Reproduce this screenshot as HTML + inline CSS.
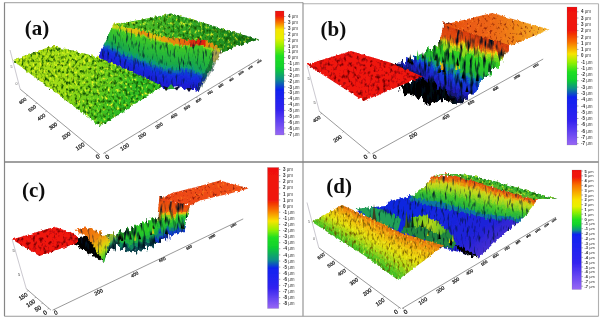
<!DOCTYPE html>
<html><head><meta charset="utf-8"><title>Figure</title>
<style>html,body{margin:0;padding:0;background:#fff}svg{display:block}</style>
</head><body>
<svg width="602" height="320" viewBox="0 0 602 320">
<defs><filter id="rG" x="-5%" y="-15%" width="110%" height="130%" color-interpolation-filters="sRGB">
<feTurbulence type="fractalNoise" baseFrequency="0.36 0.27" numOctaves="2" seed="7" result="n"/><feDisplacementMap in="SourceGraphic" in2="n" scale="4" xChannelSelector="R" yChannelSelector="G" result="d"/><feColorMatrix in="n" type="matrix" values="0 0 0 0 0.08  0 0 0 0 0.34  0 0 0 0 0.02  0 0 3.2 0 -1.5" result="dk"/>
<feComposite in="dk" in2="d" operator="in" result="dk2"/><feColorMatrix in="n" type="matrix" values="0 0 0 0 1  0 0 0 0 1  0 0 0 0 0.15  0 3.0 0 0 -1.6" result="lt"/>
<feComposite in="lt" in2="d" operator="in" result="lt2"/>
<feMerge><feMergeNode in="d"/><feMergeNode in="lt2"/><feMergeNode in="dk2"/></feMerge></filter><filter id="rC" x="-5%" y="-15%" width="110%" height="130%" color-interpolation-filters="sRGB">
<feTurbulence type="fractalNoise" baseFrequency="0.30 0.08" numOctaves="2" seed="3" result="n"/><feColorMatrix in="n" type="matrix" values="1 0 0 0 0  0 1 0 0 0  0 0 0 0 0.5  0 0 0 0 1" result="n2"/>
<feDisplacementMap in="SourceGraphic" in2="n2" scale="13" xChannelSelector="B" yChannelSelector="G" result="d1"/>
<feDisplacementMap in="d1" in2="n2" scale="4" xChannelSelector="R" yChannelSelector="B" result="d"/><feColorMatrix in="n" type="matrix" values="0 0 0 0 0.0  0 0 0 0 0.06  0 0 0 0 0.12  0 0 3.4 0 -1.6" result="dk"/>
<feComposite in="dk" in2="d" operator="in" result="dk2"/><feMerge><feMergeNode in="d"/><feMergeNode in="dk2"/></feMerge></filter><filter id="rC2" x="-5%" y="-15%" width="110%" height="130%" color-interpolation-filters="sRGB">
<feTurbulence type="fractalNoise" baseFrequency="0.42 0.12" numOctaves="2" seed="11" result="n"/><feColorMatrix in="n" type="matrix" values="1 0 0 0 0  0 1 0 0 0  0 0 0 0 0.5  0 0 0 0 1" result="n2"/>
<feDisplacementMap in="SourceGraphic" in2="n2" scale="7" xChannelSelector="B" yChannelSelector="G" result="d1"/>
<feDisplacementMap in="d1" in2="n2" scale="3" xChannelSelector="R" yChannelSelector="B" result="d"/><feColorMatrix in="n" type="matrix" values="0 0 0 0 0.0  0 0 0 0 0.08  0 0 0 0 0.18  0 0 2.8 0 -1.5" result="dk"/>
<feComposite in="dk" in2="d" operator="in" result="dk2"/><feMerge><feMergeNode in="d"/><feMergeNode in="dk2"/></feMerge></filter><filter id="rY" x="-5%" y="-15%" width="110%" height="130%" color-interpolation-filters="sRGB">
<feTurbulence type="fractalNoise" baseFrequency="0.46 0.22" numOctaves="2" seed="13" result="n"/><feDisplacementMap in="SourceGraphic" in2="n" scale="3" xChannelSelector="R" yChannelSelector="G" result="d"/><feColorMatrix in="n" type="matrix" values="0 0 0 0 0.4  0 0 0 0 0.3  0 0 0 0 0.0  0 0 2.8 0 -1.4" result="dk"/>
<feComposite in="dk" in2="d" operator="in" result="dk2"/><feColorMatrix in="n" type="matrix" values="0 0 0 0 1  0 0 0 0 1  0 0 0 0 0.2  0 2.6 0 0 -1.5" result="lt"/>
<feComposite in="lt" in2="d" operator="in" result="lt2"/>
<feMerge><feMergeNode in="d"/><feMergeNode in="lt2"/><feMergeNode in="dk2"/></feMerge></filter><filter id="rR2" x="-5%" y="-15%" width="110%" height="130%" color-interpolation-filters="sRGB">
<feTurbulence type="fractalNoise" baseFrequency="0.30 0.24" numOctaves="2" seed="9" result="n"/><feDisplacementMap in="SourceGraphic" in2="n" scale="3" xChannelSelector="R" yChannelSelector="G" result="d"/><feColorMatrix in="n" type="matrix" values="0 0 0 0 0.45  0 0 0 0 0.0  0 0 0 0 0.0  0 0 3.0 0 -1.45" result="dk"/>
<feComposite in="dk" in2="d" operator="in" result="dk2"/><feMerge><feMergeNode in="d"/><feMergeNode in="dk2"/></feMerge></filter><filter id="rR" x="-5%" y="-15%" width="110%" height="130%" color-interpolation-filters="sRGB">
<feTurbulence type="fractalNoise" baseFrequency="0.40 0.30" numOctaves="2" seed="5" result="n"/><feDisplacementMap in="SourceGraphic" in2="n" scale="3" xChannelSelector="R" yChannelSelector="G" result="d"/><feColorMatrix in="n" type="matrix" values="0 0 0 0 0.35  0 0 0 0 0.0  0 0 0 0 0.0  0 0 2.6 0 -1.5" result="dk"/>
<feComposite in="dk" in2="d" operator="in" result="dk2"/><feColorMatrix in="n" type="matrix" values="0 0 0 0 1  0 0 0 0 0.5  0 0 0 0 0.12  0 2.6 0 0 -1.45" result="lt"/>
<feComposite in="lt" in2="d" operator="in" result="lt2"/>
<feMerge><feMergeNode in="d"/><feMergeNode in="lt2"/><feMergeNode in="dk2"/></feMerge></filter><filter id="soft" x="-5%" y="-5%" width="110%" height="110%"><feGaussianBlur stdDeviation="0.6"/></filter><filter id="soft2" x="-5%" y="-5%" width="110%" height="110%"><feGaussianBlur stdDeviation="0.65"/></filter><linearGradient id="cba" gradientUnits="userSpaceOnUse" x1="0" y1="11" x2="0" y2="135"><stop offset="0" stop-color="#f01010"/><stop offset="0.04" stop-color="#f01808"/><stop offset="0.09" stop-color="#f87000"/><stop offset="0.15" stop-color="#f8e400"/><stop offset="0.22" stop-color="#e8f000"/><stop offset="0.28" stop-color="#98f000"/><stop offset="0.36" stop-color="#20e020"/><stop offset="0.46" stop-color="#10d030"/><stop offset="0.55" stop-color="#109088"/><stop offset="0.635" stop-color="#1020f0"/><stop offset="0.79" stop-color="#3020f0"/><stop offset="1" stop-color="#9868f4"/></linearGradient><linearGradient id="cbb" gradientUnits="userSpaceOnUse" x1="0" y1="7" x2="0" y2="145"><stop offset="0" stop-color="#f01010"/><stop offset="0.17" stop-color="#f01808"/><stop offset="0.255" stop-color="#f87000"/><stop offset="0.34" stop-color="#f8e400"/><stop offset="0.4" stop-color="#98f000"/><stop offset="0.47" stop-color="#20e020"/><stop offset="0.53" stop-color="#10d030"/><stop offset="0.59" stop-color="#109088"/><stop offset="0.655" stop-color="#1020f0"/><stop offset="0.82" stop-color="#3020f0"/><stop offset="1" stop-color="#9868f4"/></linearGradient><linearGradient id="cbc" gradientUnits="userSpaceOnUse" x1="0" y1="167.5" x2="0" y2="308.5"><stop offset="0" stop-color="#f01010"/><stop offset="0.23" stop-color="#f01808"/><stop offset="0.3" stop-color="#f87000"/><stop offset="0.38" stop-color="#f8e400"/><stop offset="0.44" stop-color="#98f000"/><stop offset="0.495" stop-color="#20e020"/><stop offset="0.565" stop-color="#10d030"/><stop offset="0.655" stop-color="#109088"/><stop offset="0.715" stop-color="#1020f0"/><stop offset="0.85" stop-color="#3020f0"/><stop offset="1" stop-color="#9868f4"/></linearGradient><linearGradient id="cbd" gradientUnits="userSpaceOnUse" x1="0" y1="170" x2="0" y2="289.5"><stop offset="0" stop-color="#f01010"/><stop offset="0.06" stop-color="#f01808"/><stop offset="0.125" stop-color="#f87000"/><stop offset="0.25" stop-color="#f8e400"/><stop offset="0.305" stop-color="#e8f000"/><stop offset="0.35" stop-color="#98f000"/><stop offset="0.415" stop-color="#20e020"/><stop offset="0.46" stop-color="#10d030"/><stop offset="0.505" stop-color="#109088"/><stop offset="0.54" stop-color="#1020f0"/><stop offset="0.77" stop-color="#3020f0"/><stop offset="1" stop-color="#9868f4"/></linearGradient><linearGradient id="a_h" gradientUnits="userSpaceOnUse" x1="120" y1="25" x2="255" y2="40"><stop offset="0" stop-color="#58c428"/><stop offset="0.4" stop-color="#38b028"/><stop offset="0.8" stop-color="#209020"/><stop offset="1" stop-color="#107018"/></linearGradient><linearGradient id="a_l" gradientUnits="userSpaceOnUse" x1="30" y1="55" x2="110" y2="118"><stop offset="0" stop-color="#a8dc14"/><stop offset="0.45" stop-color="#9cdc14"/><stop offset="0.75" stop-color="#64cc1c"/><stop offset="1" stop-color="#30bc24"/></linearGradient><linearGradient id="b_h" gradientUnits="userSpaceOnUse" x1="445" y1="25" x2="545" y2="30"><stop offset="0" stop-color="#e85010"/><stop offset="0.45" stop-color="#ec6414"/><stop offset="0.75" stop-color="#f08c18"/><stop offset="1" stop-color="#f4b830"/></linearGradient><linearGradient id="c_k" gradientUnits="userSpaceOnUse" x1="108" y1="234" x2="112" y2="255"><stop offset="0" stop-color="#d8d010"/><stop offset="0.35" stop-color="#30a060"/><stop offset="0.7" stop-color="#083040"/><stop offset="1" stop-color="#000000"/></linearGradient><linearGradient id="c_m" gradientUnits="userSpaceOnUse" x1="82" y1="230" x2="104" y2="260"><stop offset="0" stop-color="#f06810"/><stop offset="0.4" stop-color="#f08810"/><stop offset="0.6" stop-color="#e8c010"/><stop offset="0.75" stop-color="#d0dc10"/><stop offset="0.9" stop-color="#60d020"/><stop offset="1" stop-color="#30c030"/></linearGradient><linearGradient id="c_h" gradientUnits="userSpaceOnUse" x1="160" y1="199" x2="245" y2="187"><stop offset="0" stop-color="#ec4414"/><stop offset="1" stop-color="#f05018"/></linearGradient><linearGradient id="d_v" gradientUnits="userSpaceOnUse" x1="440" y1="200" x2="478" y2="257"><stop offset="0" stop-color="#1028e0"/><stop offset="0.7" stop-color="#2020d8"/><stop offset="1" stop-color="#4830d0"/></linearGradient><linearGradient id="d_g" gradientUnits="userSpaceOnUse" x1="415" y1="218" x2="445" y2="232"><stop offset="0" stop-color="#60c020"/><stop offset="0.5" stop-color="#b8d818"/><stop offset="1" stop-color="#50b828"/></linearGradient></defs>
<rect width="602" height="320" fill="#fff"/>
<g filter="url(#soft)">
<line x1="4.5" y1="2.6" x2="303" y2="2.6" stroke="#b0b0b0" stroke-width="1.1"/>
<line x1="303" y1="3.8" x2="598.5" y2="3.8" stroke="#b0b0b0" stroke-width="1.1"/>
<line x1="4.5" y1="2.6" x2="4.5" y2="316.2" stroke="#868686" stroke-width="1.2"/>
<line x1="303" y1="2.6" x2="303" y2="316.2" stroke="#8c8c8c" stroke-width="1.1"/>
<line x1="598.5" y1="3.8" x2="598.5" y2="316.2" stroke="#b0b0b0" stroke-width="1.1"/>
<line x1="4.5" y1="162" x2="598.5" y2="162" stroke="#808080" stroke-width="1.3"/>
<line x1="4.5" y1="316.2" x2="598.5" y2="316.2" stroke="#9a9a9a" stroke-width="1.1"/>
</g>
<g filter="url(#soft)">
<rect x="275.2" y="11" width="8.8" height="124" fill="url(#cba)" stroke="#666" stroke-opacity="0.35" stroke-width="0.5"/>
<g font-family="Liberation Sans, sans-serif" font-size="4.5" fill="#404040"><text x="288" y="18.1"><tspan font-weight="bold" fill="#2a2a2a">4</tspan> µm</text><text x="288" y="24.0"><tspan font-weight="bold" fill="#2a2a2a">3</tspan> µm</text><text x="288" y="29.8"><tspan font-weight="bold" fill="#2a2a2a">3</tspan> µm</text><text x="288" y="35.7"><tspan font-weight="bold" fill="#2a2a2a">2</tspan> µm</text><text x="288" y="41.6"><tspan font-weight="bold" fill="#2a2a2a">2</tspan> µm</text><text x="288" y="47.5"><tspan font-weight="bold" fill="#2a2a2a">1</tspan> µm</text><text x="288" y="53.3"><tspan font-weight="bold" fill="#2a2a2a">1</tspan> µm</text><text x="288" y="59.2"><tspan font-weight="bold" fill="#2a2a2a">0</tspan> µm</text><text x="288" y="65.1"><tspan font-weight="bold" fill="#2a2a2a">-1</tspan> µm</text><text x="288" y="70.9"><tspan font-weight="bold" fill="#2a2a2a">-1</tspan> µm</text><text x="288" y="76.8"><tspan font-weight="bold" fill="#2a2a2a">-2</tspan> µm</text><text x="288" y="82.7"><tspan font-weight="bold" fill="#2a2a2a">-2</tspan> µm</text><text x="288" y="88.5"><tspan font-weight="bold" fill="#2a2a2a">-3</tspan> µm</text><text x="288" y="94.4"><tspan font-weight="bold" fill="#2a2a2a">-3</tspan> µm</text><text x="288" y="100.3"><tspan font-weight="bold" fill="#2a2a2a">-4</tspan> µm</text><text x="288" y="106.1"><tspan font-weight="bold" fill="#2a2a2a">-4</tspan> µm</text><text x="288" y="112.0"><tspan font-weight="bold" fill="#2a2a2a">-5</tspan> µm</text><text x="288" y="117.9"><tspan font-weight="bold" fill="#2a2a2a">-5</tspan> µm</text><text x="288" y="123.8"><tspan font-weight="bold" fill="#2a2a2a">-6</tspan> µm</text><text x="288" y="129.6"><tspan font-weight="bold" fill="#2a2a2a">-6</tspan> µm</text><text x="288" y="135.5"><tspan font-weight="bold" fill="#2a2a2a">-7</tspan> µm</text></g>
<path d="M284 16.5h1.5M284 22.4h1.5M284 28.2h1.5M284 34.1h1.5M284 40.0h1.5M284 45.9h1.5M284 51.7h1.5M284 57.6h1.5M284 63.5h1.5M284 69.3h1.5M284 75.2h1.5M284 81.1h1.5M284 86.9h1.5M284 92.8h1.5M284 98.7h1.5M284 104.5h1.5M284 110.4h1.5M284 116.3h1.5M284 122.2h1.5M284 128.0h1.5M284 133.9h1.5" stroke="#556" stroke-width="0.5" fill="none"/>
</g>
<g filter="url(#soft)">
<rect x="567" y="7" width="10" height="138" fill="url(#cbb)" stroke="#666" stroke-opacity="0.35" stroke-width="0.5"/>
<g font-family="Liberation Sans, sans-serif" font-size="4.5" fill="#404040"><text x="581" y="13.3"><tspan font-weight="bold" fill="#2a2a2a">4</tspan> µm</text><text x="581" y="19.6"><tspan font-weight="bold" fill="#2a2a2a">3</tspan> µm</text><text x="581" y="25.9"><tspan font-weight="bold" fill="#2a2a2a">3</tspan> µm</text><text x="581" y="32.2"><tspan font-weight="bold" fill="#2a2a2a">2</tspan> µm</text><text x="581" y="38.5"><tspan font-weight="bold" fill="#2a2a2a">2</tspan> µm</text><text x="581" y="44.8"><tspan font-weight="bold" fill="#2a2a2a">1</tspan> µm</text><text x="581" y="51.0"><tspan font-weight="bold" fill="#2a2a2a">1</tspan> µm</text><text x="581" y="57.3"><tspan font-weight="bold" fill="#2a2a2a">0</tspan> µm</text><text x="581" y="63.6"><tspan font-weight="bold" fill="#2a2a2a">-1</tspan> µm</text><text x="581" y="69.9"><tspan font-weight="bold" fill="#2a2a2a">-1</tspan> µm</text><text x="581" y="76.2"><tspan font-weight="bold" fill="#2a2a2a">-2</tspan> µm</text><text x="581" y="82.4"><tspan font-weight="bold" fill="#2a2a2a">-2</tspan> µm</text><text x="581" y="88.7"><tspan font-weight="bold" fill="#2a2a2a">-3</tspan> µm</text><text x="581" y="95.0"><tspan font-weight="bold" fill="#2a2a2a">-3</tspan> µm</text><text x="581" y="101.3"><tspan font-weight="bold" fill="#2a2a2a">-4</tspan> µm</text><text x="581" y="107.5"><tspan font-weight="bold" fill="#2a2a2a">-4</tspan> µm</text><text x="581" y="113.8"><tspan font-weight="bold" fill="#2a2a2a">-5</tspan> µm</text><text x="581" y="120.1"><tspan font-weight="bold" fill="#2a2a2a">-5</tspan> µm</text><text x="581" y="126.4"><tspan font-weight="bold" fill="#2a2a2a">-6</tspan> µm</text><text x="581" y="132.7"><tspan font-weight="bold" fill="#2a2a2a">-6</tspan> µm</text><text x="581" y="139.0"><tspan font-weight="bold" fill="#2a2a2a">-7</tspan> µm</text><text x="581" y="145.2"><tspan font-weight="bold" fill="#2a2a2a">-7</tspan> µm</text></g>
<path d="M577 11.8h1.5M577 18.0h1.5M577 24.3h1.5M577 30.6h1.5M577 36.9h1.5M577 43.2h1.5M577 49.4h1.5M577 55.7h1.5M577 62.0h1.5M577 68.3h1.5M577 74.6h1.5M577 80.8h1.5M577 87.1h1.5M577 93.4h1.5M577 99.7h1.5M577 106.0h1.5M577 112.2h1.5M577 118.5h1.5M577 124.8h1.5M577 131.1h1.5M577 137.4h1.5M577 143.6h1.5" stroke="#556" stroke-width="0.5" fill="none"/>
</g>
<g filter="url(#soft)">
<rect x="267.5" y="167.5" width="11.3" height="141" fill="url(#cbc)" stroke="#666" stroke-opacity="0.35" stroke-width="0.5"/>
<g font-family="Liberation Sans, sans-serif" font-size="4.5" fill="#404040"><text x="283" y="171.1"><tspan font-weight="bold" fill="#2a2a2a">3</tspan> µm</text><text x="283" y="177.2"><tspan font-weight="bold" fill="#2a2a2a">3</tspan> µm</text><text x="283" y="183.3"><tspan font-weight="bold" fill="#2a2a2a">2</tspan> µm</text><text x="283" y="189.4"><tspan font-weight="bold" fill="#2a2a2a">2</tspan> µm</text><text x="283" y="195.5"><tspan font-weight="bold" fill="#2a2a2a">1</tspan> µm</text><text x="283" y="201.6"><tspan font-weight="bold" fill="#2a2a2a">1</tspan> µm</text><text x="283" y="207.7"><tspan font-weight="bold" fill="#2a2a2a">0</tspan> µm</text><text x="283" y="213.8"><tspan font-weight="bold" fill="#2a2a2a">-1</tspan> µm</text><text x="283" y="219.9"><tspan font-weight="bold" fill="#2a2a2a">-1</tspan> µm</text><text x="283" y="226.0"><tspan font-weight="bold" fill="#2a2a2a">-2</tspan> µm</text><text x="283" y="232.1"><tspan font-weight="bold" fill="#2a2a2a">-2</tspan> µm</text><text x="283" y="238.2"><tspan font-weight="bold" fill="#2a2a2a">-3</tspan> µm</text><text x="283" y="244.3"><tspan font-weight="bold" fill="#2a2a2a">-3</tspan> µm</text><text x="283" y="250.4"><tspan font-weight="bold" fill="#2a2a2a">-4</tspan> µm</text><text x="283" y="256.5"><tspan font-weight="bold" fill="#2a2a2a">-4</tspan> µm</text><text x="283" y="262.6"><tspan font-weight="bold" fill="#2a2a2a">-5</tspan> µm</text><text x="283" y="268.7"><tspan font-weight="bold" fill="#2a2a2a">-5</tspan> µm</text><text x="283" y="274.8"><tspan font-weight="bold" fill="#2a2a2a">-6</tspan> µm</text><text x="283" y="280.9"><tspan font-weight="bold" fill="#2a2a2a">-6</tspan> µm</text><text x="283" y="287.0"><tspan font-weight="bold" fill="#2a2a2a">-7</tspan> µm</text><text x="283" y="293.1"><tspan font-weight="bold" fill="#2a2a2a">-7</tspan> µm</text><text x="283" y="299.2"><tspan font-weight="bold" fill="#2a2a2a">-8</tspan> µm</text><text x="283" y="305.3"><tspan font-weight="bold" fill="#2a2a2a">-8</tspan> µm</text></g>
<path d="M278.8 169.5h1.5M278.8 175.6h1.5M278.8 181.7h1.5M278.8 187.8h1.5M278.8 193.9h1.5M278.8 200.0h1.5M278.8 206.1h1.5M278.8 212.2h1.5M278.8 218.3h1.5M278.8 224.4h1.5M278.8 230.5h1.5M278.8 236.6h1.5M278.8 242.7h1.5M278.8 248.8h1.5M278.8 254.9h1.5M278.8 261.0h1.5M278.8 267.1h1.5M278.8 273.2h1.5M278.8 279.3h1.5M278.8 285.4h1.5M278.8 291.5h1.5M278.8 297.6h1.5M278.8 303.7h1.5" stroke="#556" stroke-width="0.5" fill="none"/>
</g>
<g filter="url(#soft)">
<rect x="572" y="170" width="9.4" height="119.5" fill="url(#cbd)" stroke="#666" stroke-opacity="0.35" stroke-width="0.5"/>
<g font-family="Liberation Sans, sans-serif" font-size="4" fill="#404040"><text x="584.5" y="172.6"><tspan font-weight="bold" fill="#2a2a2a">5</tspan> µm</text><text x="584.5" y="177.4"><tspan font-weight="bold" fill="#2a2a2a">5</tspan> µm</text><text x="584.5" y="182.2"><tspan font-weight="bold" fill="#2a2a2a">4</tspan> µm</text><text x="584.5" y="187.0"><tspan font-weight="bold" fill="#2a2a2a">4</tspan> µm</text><text x="584.5" y="191.8"><tspan font-weight="bold" fill="#2a2a2a">3</tspan> µm</text><text x="584.5" y="196.6"><tspan font-weight="bold" fill="#2a2a2a">3</tspan> µm</text><text x="584.5" y="201.4"><tspan font-weight="bold" fill="#2a2a2a">2</tspan> µm</text><text x="584.5" y="206.2"><tspan font-weight="bold" fill="#2a2a2a">2</tspan> µm</text><text x="584.5" y="211.0"><tspan font-weight="bold" fill="#2a2a2a">1</tspan> µm</text><text x="584.5" y="215.8"><tspan font-weight="bold" fill="#2a2a2a">1</tspan> µm</text><text x="584.5" y="220.6"><tspan font-weight="bold" fill="#2a2a2a">0</tspan> µm</text><text x="584.5" y="225.4"><tspan font-weight="bold" fill="#2a2a2a">-1</tspan> µm</text><text x="584.5" y="230.2"><tspan font-weight="bold" fill="#2a2a2a">-1</tspan> µm</text><text x="584.5" y="235.0"><tspan font-weight="bold" fill="#2a2a2a">-2</tspan> µm</text><text x="584.5" y="239.8"><tspan font-weight="bold" fill="#2a2a2a">-2</tspan> µm</text><text x="584.5" y="244.6"><tspan font-weight="bold" fill="#2a2a2a">-3</tspan> µm</text><text x="584.5" y="249.4"><tspan font-weight="bold" fill="#2a2a2a">-3</tspan> µm</text><text x="584.5" y="254.2"><tspan font-weight="bold" fill="#2a2a2a">-4</tspan> µm</text><text x="584.5" y="259.0"><tspan font-weight="bold" fill="#2a2a2a">-4</tspan> µm</text><text x="584.5" y="263.8"><tspan font-weight="bold" fill="#2a2a2a">-5</tspan> µm</text><text x="584.5" y="268.6"><tspan font-weight="bold" fill="#2a2a2a">-5</tspan> µm</text><text x="584.5" y="273.4"><tspan font-weight="bold" fill="#2a2a2a">-6</tspan> µm</text><text x="584.5" y="278.2"><tspan font-weight="bold" fill="#2a2a2a">-6</tspan> µm</text><text x="584.5" y="283.0"><tspan font-weight="bold" fill="#2a2a2a">-7</tspan> µm</text><text x="584.5" y="287.8"><tspan font-weight="bold" fill="#2a2a2a">-7</tspan> µm</text></g>
<path d="M581.4 171.0h1.5M581.4 175.8h1.5M581.4 180.6h1.5M581.4 185.4h1.5M581.4 190.2h1.5M581.4 195.0h1.5M581.4 199.8h1.5M581.4 204.6h1.5M581.4 209.4h1.5M581.4 214.2h1.5M581.4 219.0h1.5M581.4 223.8h1.5M581.4 228.6h1.5M581.4 233.4h1.5M581.4 238.2h1.5M581.4 243.0h1.5M581.4 247.8h1.5M581.4 252.6h1.5M581.4 257.4h1.5M581.4 262.2h1.5M581.4 267.0h1.5M581.4 271.8h1.5M581.4 276.6h1.5M581.4 281.4h1.5M581.4 286.2h1.5" stroke="#556" stroke-width="0.5" fill="none"/>
</g>
<text x="24.8" y="35" font-family="Liberation Serif, serif" font-weight="bold" font-size="21" fill="#111" filter="url(#soft)">(a)</text>
<text x="320.5" y="36.2" font-family="Liberation Serif, serif" font-weight="bold" font-size="21" fill="#111" filter="url(#soft)">(b)</text>
<text x="22" y="197.4" font-family="Liberation Serif, serif" font-weight="bold" font-size="21" fill="#111" filter="url(#soft)">(c)</text>
<text x="326.3" y="192.5" font-family="Liberation Serif, serif" font-weight="bold" font-size="21" fill="#111" filter="url(#soft)">(d)</text>
<g filter="url(#soft)">
<line x1="99.9" y1="154.8" x2="20.2" y2="89.2" stroke="#555" stroke-width="0.6"/>
<line x1="99.4" y1="154.4" x2="98.3" y2="155.6" stroke="#555" stroke-width="0.5"/>
<text transform="translate(97.6,156.5) rotate(-35)" text-anchor="middle" font-family="Liberation Sans, sans-serif" font-size="6.0" fill="#181818" stroke="#181818" stroke-width="0.22" dy="2.2">0</text>
<line x1="83.9" y1="141.6" x2="82.9" y2="142.9" stroke="#555" stroke-width="0.5"/>
<text transform="translate(80.0,146.4) rotate(-35)" text-anchor="middle" font-family="Liberation Sans, sans-serif" font-size="5.7" fill="#181818" stroke="#181818" stroke-width="0.22" dy="2.1">100</text>
<line x1="70.2" y1="130.3" x2="69.2" y2="131.6" stroke="#555" stroke-width="0.5"/>
<text transform="translate(66.0,135.4) rotate(-35)" text-anchor="middle" font-family="Liberation Sans, sans-serif" font-size="5.5" fill="#181818" stroke="#181818" stroke-width="0.22" dy="2.0">200</text>
<line x1="57.8" y1="120.2" x2="56.8" y2="121.4" stroke="#555" stroke-width="0.5"/>
<text transform="translate(53.0,126.0) rotate(-35)" text-anchor="middle" font-family="Liberation Sans, sans-serif" font-size="5.3" fill="#181818" stroke="#181818" stroke-width="0.22" dy="1.9">300</text>
<line x1="46.5" y1="110.8" x2="45.5" y2="112.1" stroke="#555" stroke-width="0.5"/>
<text transform="translate(41.3,117.1) rotate(-35)" text-anchor="middle" font-family="Liberation Sans, sans-serif" font-size="5.1" fill="#181818" stroke="#181818" stroke-width="0.22" dy="1.8">400</text>
<line x1="36.7" y1="102.7" x2="35.6" y2="104.0" stroke="#555" stroke-width="0.5"/>
<text transform="translate(32.0,108.4) rotate(-35)" text-anchor="middle" font-family="Liberation Sans, sans-serif" font-size="4.9" fill="#181818" stroke="#181818" stroke-width="0.22" dy="1.8">500</text>
<line x1="27.4" y1="95.1" x2="26.4" y2="96.3" stroke="#555" stroke-width="0.5"/>
<text transform="translate(22.6,100.9) rotate(-35)" text-anchor="middle" font-family="Liberation Sans, sans-serif" font-size="4.7" fill="#181818" stroke="#181818" stroke-width="0.22" dy="1.7">600</text>
<line x1="103.3" y1="153.5" x2="259" y2="59" stroke="#555" stroke-width="0.6"/>
<line x1="104.7" y1="152.6" x2="105.6" y2="154.0" stroke="#555" stroke-width="0.5"/>
<text transform="translate(107.2,156.7) rotate(-33)" text-anchor="middle" font-family="Liberation Sans, sans-serif" font-size="6.0" fill="#181818" stroke="#181818" stroke-width="0.22" dy="2.1">0</text>
<line x1="121.8" y1="142.3" x2="122.6" y2="143.6" stroke="#555" stroke-width="0.5"/>
<text transform="translate(124.6,146.9) rotate(-33)" text-anchor="middle" font-family="Liberation Sans, sans-serif" font-size="5.5" fill="#181818" stroke="#181818" stroke-width="0.22" dy="2.0">100</text>
<line x1="139.6" y1="131.5" x2="140.4" y2="132.8" stroke="#555" stroke-width="0.5"/>
<text transform="translate(142.0,135.4) rotate(-33)" text-anchor="middle" font-family="Liberation Sans, sans-serif" font-size="5.1" fill="#181818" stroke="#181818" stroke-width="0.22" dy="1.8">200</text>
<line x1="156.4" y1="121.3" x2="157.2" y2="122.7" stroke="#555" stroke-width="0.5"/>
<text transform="translate(159.0,125.6) rotate(-33)" text-anchor="middle" font-family="Liberation Sans, sans-serif" font-size="4.7" fill="#181818" stroke="#181818" stroke-width="0.22" dy="1.7">300</text>
<line x1="171.6" y1="112.1" x2="172.4" y2="113.4" stroke="#555" stroke-width="0.5"/>
<text transform="translate(173.8,115.7) rotate(-33)" text-anchor="middle" font-family="Liberation Sans, sans-serif" font-size="4.3" fill="#181818" stroke="#181818" stroke-width="0.22" dy="1.6">400</text>
<line x1="184.9" y1="104.0" x2="185.7" y2="105.4" stroke="#555" stroke-width="0.5"/>
<text transform="translate(187.0,107.5) rotate(-33)" text-anchor="middle" font-family="Liberation Sans, sans-serif" font-size="4.0" fill="#181818" stroke="#181818" stroke-width="0.22" dy="1.4">500</text>
<line x1="196.5" y1="97.0" x2="197.3" y2="98.3" stroke="#555" stroke-width="0.5"/>
<text transform="translate(198.5,100.3) rotate(-33)" text-anchor="middle" font-family="Liberation Sans, sans-serif" font-size="3.7" fill="#181818" stroke="#181818" stroke-width="0.22" dy="1.3">600</text>
<line x1="208.2" y1="89.8" x2="209.1" y2="91.2" stroke="#555" stroke-width="0.5"/>
<text transform="translate(210.0,92.7) rotate(-33)" text-anchor="middle" font-family="Liberation Sans, sans-serif" font-size="3.4" fill="#181818" stroke="#181818" stroke-width="0.22" dy="1.2">700</text>
<line x1="219.3" y1="83.1" x2="220.2" y2="84.4" stroke="#555" stroke-width="0.5"/>
<text transform="translate(220.8,85.5) rotate(-33)" text-anchor="middle" font-family="Liberation Sans, sans-serif" font-size="3.2" fill="#181818" stroke="#181818" stroke-width="0.22" dy="1.1">800</text>
<line x1="229.6" y1="76.8" x2="230.5" y2="78.2" stroke="#555" stroke-width="0.5"/>
<text transform="translate(231.3,79.6) rotate(-33)" text-anchor="middle" font-family="Liberation Sans, sans-serif" font-size="2.9" fill="#181818" stroke="#181818" stroke-width="0.22" dy="1.1">900</text>
<line x1="239.6" y1="70.8" x2="240.5" y2="72.1" stroke="#555" stroke-width="0.5"/>
<text transform="translate(241.0,73.0) rotate(-33)" text-anchor="middle" font-family="Liberation Sans, sans-serif" font-size="2.7" fill="#181818" stroke="#181818" stroke-width="0.22" dy="1.0">1000</text>
<line x1="248.9" y1="65.1" x2="249.7" y2="66.5" stroke="#555" stroke-width="0.5"/>
<text transform="translate(250.3,67.5) rotate(-33)" text-anchor="middle" font-family="Liberation Sans, sans-serif" font-size="2.4" fill="#181818" stroke="#181818" stroke-width="0.22" dy="0.9">1100</text>
<line x1="258.0" y1="59.6" x2="258.8" y2="61.0" stroke="#555" stroke-width="0.5"/>
<text transform="translate(259.2,61.6) rotate(-33)" text-anchor="middle" font-family="Liberation Sans, sans-serif" font-size="2.2" fill="#181818" stroke="#181818" stroke-width="0.22" dy="0.8">1200</text>
<path d="M20.2 89.2L10 50" stroke="#a8a4b0" stroke-width="0.6" fill="none"/>
<text x="10.5" y="68" font-family="Liberation Sans, sans-serif" font-size="3.6" fill="#555">5</text><text x="15.5" y="85" font-family="Liberation Sans, sans-serif" font-size="3.6" fill="#555">0</text>
<line x1="370.3" y1="153.5" x2="319.4" y2="111.4" stroke="#555" stroke-width="0.6"/>
<line x1="369.0" y1="152.4" x2="367.9" y2="153.6" stroke="#555" stroke-width="0.5"/>
<text transform="translate(365.4,156.7) rotate(-33)" text-anchor="middle" font-family="Liberation Sans, sans-serif" font-size="6.0" fill="#181818" stroke="#181818" stroke-width="0.22" dy="2.1">0</text>
<line x1="343.6" y1="131.4" x2="342.5" y2="132.6" stroke="#555" stroke-width="0.5"/>
<text transform="translate(337.5,138.7) rotate(-33)" text-anchor="middle" font-family="Liberation Sans, sans-serif" font-size="5.4" fill="#181818" stroke="#181818" stroke-width="0.22" dy="1.9">200</text>
<line x1="321.6" y1="113.2" x2="320.6" y2="114.4" stroke="#555" stroke-width="0.5"/>
<text transform="translate(316.8,119.0) rotate(-33)" text-anchor="middle" font-family="Liberation Sans, sans-serif" font-size="4.9" fill="#181818" stroke="#181818" stroke-width="0.22" dy="1.7">400</text>
<line x1="372.6" y1="153.5" x2="543.2" y2="59" stroke="#555" stroke-width="0.6"/>
<line x1="372.7" y1="153.4" x2="373.5" y2="154.8" stroke="#555" stroke-width="0.5"/>
<text transform="translate(374.5,156.7) rotate(-30)" text-anchor="middle" font-family="Liberation Sans, sans-serif" font-size="6.0" fill="#181818" stroke="#181818" stroke-width="0.22" dy="2.2">0</text>
<line x1="411.2" y1="132.1" x2="412.0" y2="133.5" stroke="#555" stroke-width="0.5"/>
<text transform="translate(413.0,135.4) rotate(-30)" text-anchor="middle" font-family="Liberation Sans, sans-serif" font-size="5.2" fill="#181818" stroke="#181818" stroke-width="0.22" dy="1.9">200</text>
<line x1="444.1" y1="113.9" x2="444.9" y2="115.3" stroke="#555" stroke-width="0.5"/>
<text transform="translate(445.8,117.0) rotate(-30)" text-anchor="middle" font-family="Liberation Sans, sans-serif" font-size="4.6" fill="#181818" stroke="#181818" stroke-width="0.22" dy="1.6">400</text>
<line x1="469.6" y1="99.8" x2="470.3" y2="101.2" stroke="#555" stroke-width="0.5"/>
<text transform="translate(471.0,102.4) rotate(-30)" text-anchor="middle" font-family="Liberation Sans, sans-serif" font-size="4.1" fill="#181818" stroke="#181818" stroke-width="0.22" dy="1.5">600</text>
<line x1="494.2" y1="86.1" x2="495.0" y2="87.5" stroke="#555" stroke-width="0.5"/>
<text transform="translate(495.6,88.6) rotate(-30)" text-anchor="middle" font-family="Liberation Sans, sans-serif" font-size="3.6" fill="#181818" stroke="#181818" stroke-width="0.22" dy="1.3">800</text>
<line x1="515.6" y1="74.3" x2="516.4" y2="75.7" stroke="#555" stroke-width="0.5"/>
<text transform="translate(517.0,76.8) rotate(-30)" text-anchor="middle" font-family="Liberation Sans, sans-serif" font-size="3.1" fill="#181818" stroke="#181818" stroke-width="0.22" dy="1.1">1000</text>
<line x1="534.7" y1="63.7" x2="535.4" y2="65.1" stroke="#555" stroke-width="0.5"/>
<text transform="translate(535.7,65.6) rotate(-30)" text-anchor="middle" font-family="Liberation Sans, sans-serif" font-size="2.8" fill="#181818" stroke="#181818" stroke-width="0.22" dy="1.0">1200</text>
<path d="M319.4 111.4L307 65" stroke="#a8a4b0" stroke-width="0.6" fill="none"/>
<text x="307.5" y="80" font-family="Liberation Sans, sans-serif" font-size="4" fill="#333">5</text><text x="313.5" y="104" font-family="Liberation Sans, sans-serif" font-size="4" fill="#333">5</text>
<line x1="51" y1="310.2" x2="26.3" y2="288.8" stroke="#555" stroke-width="0.6"/>
<line x1="48.7" y1="308.2" x2="47.7" y2="309.4" stroke="#555" stroke-width="0.5"/>
<text transform="translate(45.0,312.5) rotate(-33)" text-anchor="middle" font-family="Liberation Sans, sans-serif" font-size="6.0" fill="#181818" stroke="#181818" stroke-width="0.22" dy="2.1">0</text>
<line x1="42.6" y1="302.9" x2="41.6" y2="304.1" stroke="#555" stroke-width="0.5"/>
<text transform="translate(37.8,308.5) rotate(-33)" text-anchor="middle" font-family="Liberation Sans, sans-serif" font-size="5.9" fill="#181818" stroke="#181818" stroke-width="0.22" dy="2.1">50</text>
<line x1="35.8" y1="297.0" x2="34.7" y2="298.2" stroke="#555" stroke-width="0.5"/>
<text transform="translate(30.6,303.0) rotate(-33)" text-anchor="middle" font-family="Liberation Sans, sans-serif" font-size="5.8" fill="#181818" stroke="#181818" stroke-width="0.22" dy="2.1">100</text>
<line x1="28.2" y1="290.4" x2="27.1" y2="291.6" stroke="#555" stroke-width="0.5"/>
<text transform="translate(23.0,296.4) rotate(-33)" text-anchor="middle" font-family="Liberation Sans, sans-serif" font-size="5.6" fill="#181818" stroke="#181818" stroke-width="0.22" dy="2.0">150</text>
<line x1="52.6" y1="310.2" x2="243.2" y2="218.9" stroke="#555" stroke-width="0.6"/>
<line x1="54.4" y1="309.3" x2="55.1" y2="310.8" stroke="#555" stroke-width="0.5"/>
<text transform="translate(55.9,312.5) rotate(-27)" text-anchor="middle" font-family="Liberation Sans, sans-serif" font-size="6.0" fill="#181818" stroke="#181818" stroke-width="0.22" dy="2.1">0</text>
<line x1="97.0" y1="288.9" x2="97.7" y2="290.4" stroke="#555" stroke-width="0.5"/>
<text transform="translate(98.5,292.0) rotate(-27)" text-anchor="middle" font-family="Liberation Sans, sans-serif" font-size="5.2" fill="#181818" stroke="#181818" stroke-width="0.22" dy="1.9">200</text>
<line x1="133.2" y1="271.6" x2="133.9" y2="273.0" stroke="#555" stroke-width="0.5"/>
<text transform="translate(134.6,274.5) rotate(-27)" text-anchor="middle" font-family="Liberation Sans, sans-serif" font-size="4.6" fill="#181818" stroke="#181818" stroke-width="0.22" dy="1.6">400</text>
<line x1="161.5" y1="258.1" x2="162.2" y2="259.5" stroke="#555" stroke-width="0.5"/>
<text transform="translate(162.2,259.6) rotate(-27)" text-anchor="middle" font-family="Liberation Sans, sans-serif" font-size="4.1" fill="#181818" stroke="#181818" stroke-width="0.22" dy="1.5">600</text>
<line x1="188.0" y1="245.3" x2="188.7" y2="246.8" stroke="#555" stroke-width="0.5"/>
<text transform="translate(189.0,247.4) rotate(-27)" text-anchor="middle" font-family="Liberation Sans, sans-serif" font-size="3.6" fill="#181818" stroke="#181818" stroke-width="0.22" dy="1.3">800</text>
<line x1="210.9" y1="234.4" x2="211.6" y2="235.8" stroke="#555" stroke-width="0.5"/>
<text transform="translate(212.0,236.6) rotate(-27)" text-anchor="middle" font-family="Liberation Sans, sans-serif" font-size="3.2" fill="#181818" stroke="#181818" stroke-width="0.22" dy="1.1">1000</text>
<line x1="232.7" y1="223.9" x2="233.4" y2="225.4" stroke="#555" stroke-width="0.5"/>
<text transform="translate(233.4,225.4) rotate(-27)" text-anchor="middle" font-family="Liberation Sans, sans-serif" font-size="2.8" fill="#181818" stroke="#181818" stroke-width="0.22" dy="1.0">1200</text>
<path d="M26.3 288.8L12.2 239.6" stroke="#a8a4b0" stroke-width="0.6" fill="none"/>
<text x="12.5" y="252" font-family="Liberation Sans, sans-serif" font-size="4" fill="#333">5</text><text x="18" y="275.5" font-family="Liberation Sans, sans-serif" font-size="4" fill="#333">5</text>
<line x1="400.8" y1="308.5" x2="318.8" y2="247.8" stroke="#555" stroke-width="0.6"/>
<line x1="399.2" y1="307.3" x2="398.3" y2="308.6" stroke="#555" stroke-width="0.5"/>
<text transform="translate(395.9,311.8) rotate(-35)" text-anchor="middle" font-family="Liberation Sans, sans-serif" font-size="6.0" fill="#181818" stroke="#181818" stroke-width="0.22" dy="2.2">0</text>
<line x1="384.3" y1="296.3" x2="383.3" y2="297.5" stroke="#555" stroke-width="0.5"/>
<text transform="translate(380.0,302.0) rotate(-35)" text-anchor="middle" font-family="Liberation Sans, sans-serif" font-size="5.7" fill="#181818" stroke="#181818" stroke-width="0.22" dy="2.1">100</text>
<line x1="371.1" y1="286.5" x2="370.1" y2="287.8" stroke="#555" stroke-width="0.5"/>
<text transform="translate(367.0,292.0) rotate(-35)" text-anchor="middle" font-family="Liberation Sans, sans-serif" font-size="5.5" fill="#181818" stroke="#181818" stroke-width="0.22" dy="2.0">200</text>
<line x1="357.6" y1="276.5" x2="356.7" y2="277.8" stroke="#555" stroke-width="0.5"/>
<text transform="translate(353.9,281.6) rotate(-35)" text-anchor="middle" font-family="Liberation Sans, sans-serif" font-size="5.3" fill="#181818" stroke="#181818" stroke-width="0.22" dy="1.9">300</text>
<line x1="345.4" y1="267.5" x2="344.4" y2="268.7" stroke="#555" stroke-width="0.5"/>
<text transform="translate(341.7,272.4) rotate(-35)" text-anchor="middle" font-family="Liberation Sans, sans-serif" font-size="5.1" fill="#181818" stroke="#181818" stroke-width="0.22" dy="1.8">400</text>
<line x1="334.5" y1="259.4" x2="333.6" y2="260.7" stroke="#555" stroke-width="0.5"/>
<text transform="translate(331.0,264.2) rotate(-35)" text-anchor="middle" font-family="Liberation Sans, sans-serif" font-size="4.9" fill="#181818" stroke="#181818" stroke-width="0.22" dy="1.8">500</text>
<line x1="324.1" y1="251.8" x2="323.2" y2="253.0" stroke="#555" stroke-width="0.5"/>
<text transform="translate(321.0,256.0) rotate(-35)" text-anchor="middle" font-family="Liberation Sans, sans-serif" font-size="4.7" fill="#181818" stroke="#181818" stroke-width="0.22" dy="1.7">600</text>
<line x1="402" y1="308.5" x2="556" y2="217.2" stroke="#555" stroke-width="0.6"/>
<line x1="403.1" y1="307.9" x2="403.9" y2="309.2" stroke="#555" stroke-width="0.5"/>
<text transform="translate(405.4,311.8) rotate(-33)" text-anchor="middle" font-family="Liberation Sans, sans-serif" font-size="6.0" fill="#181818" stroke="#181818" stroke-width="0.22" dy="2.2">0</text>
<line x1="420.7" y1="297.4" x2="421.5" y2="298.8" stroke="#555" stroke-width="0.5"/>
<text transform="translate(422.8,301.0) rotate(-33)" text-anchor="middle" font-family="Liberation Sans, sans-serif" font-size="5.5" fill="#181818" stroke="#181818" stroke-width="0.22" dy="2.0">100</text>
<line x1="438.6" y1="286.8" x2="439.4" y2="288.2" stroke="#555" stroke-width="0.5"/>
<text transform="translate(440.3,289.6) rotate(-33)" text-anchor="middle" font-family="Liberation Sans, sans-serif" font-size="5.1" fill="#181818" stroke="#181818" stroke-width="0.22" dy="1.8">200</text>
<line x1="453.9" y1="277.7" x2="454.8" y2="279.1" stroke="#555" stroke-width="0.5"/>
<text transform="translate(455.6,280.5) rotate(-33)" text-anchor="middle" font-family="Liberation Sans, sans-serif" font-size="4.7" fill="#181818" stroke="#181818" stroke-width="0.22" dy="1.7">300</text>
<line x1="468.0" y1="269.4" x2="468.8" y2="270.8" stroke="#555" stroke-width="0.5"/>
<text transform="translate(469.5,272.0) rotate(-33)" text-anchor="middle" font-family="Liberation Sans, sans-serif" font-size="4.4" fill="#181818" stroke="#181818" stroke-width="0.22" dy="1.6">400</text>
<line x1="482.8" y1="260.6" x2="483.6" y2="262.0" stroke="#555" stroke-width="0.5"/>
<text transform="translate(484.2,263.0) rotate(-33)" text-anchor="middle" font-family="Liberation Sans, sans-serif" font-size="4.0" fill="#181818" stroke="#181818" stroke-width="0.22" dy="1.4">500</text>
<line x1="494.4" y1="253.7" x2="495.2" y2="255.1" stroke="#555" stroke-width="0.5"/>
<text transform="translate(495.6,255.8) rotate(-33)" text-anchor="middle" font-family="Liberation Sans, sans-serif" font-size="3.7" fill="#181818" stroke="#181818" stroke-width="0.22" dy="1.3">600</text>
<line x1="506.0" y1="246.9" x2="506.8" y2="248.2" stroke="#555" stroke-width="0.5"/>
<text transform="translate(507.0,248.6) rotate(-33)" text-anchor="middle" font-family="Liberation Sans, sans-serif" font-size="3.4" fill="#181818" stroke="#181818" stroke-width="0.22" dy="1.2">700</text>
<line x1="517.0" y1="240.3" x2="517.8" y2="241.7" stroke="#555" stroke-width="0.5"/>
<text transform="translate(518.0,242.0) rotate(-33)" text-anchor="middle" font-family="Liberation Sans, sans-serif" font-size="3.2" fill="#181818" stroke="#181818" stroke-width="0.22" dy="1.1">800</text>
<line x1="527.4" y1="234.2" x2="528.2" y2="235.5" stroke="#555" stroke-width="0.5"/>
<text transform="translate(528.5,236.0) rotate(-33)" text-anchor="middle" font-family="Liberation Sans, sans-serif" font-size="2.9" fill="#181818" stroke="#181818" stroke-width="0.22" dy="1.0">900</text>
<line x1="536.6" y1="228.7" x2="537.4" y2="230.1" stroke="#555" stroke-width="0.5"/>
<text transform="translate(537.6,230.5) rotate(-33)" text-anchor="middle" font-family="Liberation Sans, sans-serif" font-size="2.7" fill="#181818" stroke="#181818" stroke-width="0.22" dy="1.0">1000</text>
<line x1="545.4" y1="223.5" x2="546.2" y2="224.9" stroke="#555" stroke-width="0.5"/>
<text transform="translate(546.5,225.3) rotate(-33)" text-anchor="middle" font-family="Liberation Sans, sans-serif" font-size="2.5" fill="#181818" stroke="#181818" stroke-width="0.22" dy="0.9">1100</text>
<line x1="553.2" y1="218.9" x2="554.0" y2="220.3" stroke="#555" stroke-width="0.5"/>
<text transform="translate(554.0,220.3) rotate(-33)" text-anchor="middle" font-family="Liberation Sans, sans-serif" font-size="2.3" fill="#181818" stroke="#181818" stroke-width="0.22" dy="0.8">1200</text>
<path d="M318.8 247.8L307 202.5" stroke="#a8a4b0" stroke-width="0.6" fill="none"/>
<text x="308" y="223" font-family="Liberation Sans, sans-serif" font-size="3.6" fill="#555">5</text><text x="313" y="240" font-family="Liberation Sans, sans-serif" font-size="3.6" fill="#555">0</text>
</g>
<g filter="url(#soft)">
<g filter="url(#rC2)">
<polygon points="114.2,22.4 125.4,24.6 136.6,26.8 147.6,29.6 158.6,32.7 169.7,35.1 180.9,37 192.1,37.7 203.4,36.3 213.7,40.9 222.8,47.8 219.3,54 210,47.8 199.6,43.6 188.4,45 177.3,44.1 166.3,41.8 155.3,39.2 144.5,35.9 133.7,32.8 122.8,30.1 111.9,27.4" fill="#c2ca13"/>
<polygon points="112.2,26.8 123.1,29.4 134.1,32.1 144.9,35.1 155.7,38.4 166.7,40.9 177.8,43.2 188.9,44.1 200.1,42.7 210.5,46.9 219.8,53.2 218.1,56.2 208.7,50.2 198.3,46.2 187.1,47.6 176.1,46.6 165.1,44.2 154.2,41.5 143.4,38.1 132.7,35 121.8,32.1 111,29.2" fill="#8ed51b"/>
<polygon points="111.3,28.6 122.2,31.4 133,34.2 143.8,37.3 154.6,40.7 165.5,43.3 176.5,45.7 187.6,46.7 198.7,45.3 209.1,49.4 218.5,55.4 216.8,58.4 207.3,52.7 196.9,48.9 185.8,50.2 174.8,49.1 163.9,46.6 153,43.8 142.3,40.4 131.6,37.1 120.9,34 110.2,31" fill="#42c828"/>
<polygon points="110.5,30.3 121.2,33.4 132,36.4 142.7,39.6 153.4,43 164.3,45.8 175.2,48.2 186.2,49.3 197.4,47.9 207.8,51.8 217.2,57.7 215.6,60.7 206,55.1 195.6,51.5 184.5,52.9 173.5,51.6 162.7,49 151.9,46.1 141.2,42.7 130.6,39.3 120,36 109.4,32.7" fill="#39c42c"/>
<polygon points="109.7,32.1 120.3,35.3 130.9,38.5 141.6,41.9 152.3,45.3 163.1,48.2 174,50.8 184.9,51.9 196.1,50.6 206.5,54.3 216,59.9 214.3,62.9 204.7,57.6 194.2,54.1 183.1,55.5 172.2,54.2 161.4,51.4 150.7,48.4 140.1,44.9 129.5,41.4 119,38 108.5,34.5" fill="#33bf31"/>
<polygon points="108.8,33.9 119.4,37.3 129.9,40.7 140.5,44.1 151.1,47.6 161.9,50.6 172.7,53.3 183.6,54.6 194.7,53.2 205.2,56.7 214.8,62.1 213.1,65.1 203.4,60.1 192.9,56.7 181.8,58.1 171,56.7 160.2,53.8 149.5,50.8 139,47.2 128.5,43.6 118.1,39.9 107.7,36.3" fill="#2cbb35"/>
<polygon points="108,35.7 118.4,39.3 128.9,42.8 139.4,46.4 149.9,50 160.7,53 171.4,55.8 182.3,57.2 193.4,55.8 203.8,59.2 213.5,64.3 211.8,67.3 202,62.5 191.5,59.4 180.5,60.7 169.7,59.2 159,56.2 148.4,53.1 137.9,49.4 127.4,45.7 117.2,41.9 106.9,38.1" fill="#26b63a"/>
<polygon points="107.2,37.4 117.5,41.2 127.8,45 138.3,48.6 148.8,52.3 159.4,55.4 170.1,58.3 180.9,59.8 192,58.4 202.5,61.7 212.2,66.6 210.6,69.6 200.7,65 190.2,62 179.2,63.3 168.4,61.8 157.8,58.7 147.2,55.4 136.8,51.7 126.4,47.9 116.2,43.9 106,39.8" fill="#20b040"/>
<polygon points="106.3,39.2 116.6,43.2 126.8,47.1 137.2,50.9 147.6,54.6 158.2,57.8 168.9,60.9 179.6,62.4 190.7,61.1 201.2,64.1 211,68.8 209.3,71.8 199.4,67.4 188.8,64.6 177.8,66 167.1,64.3 156.6,61.1 146.1,57.7 135.7,54 125.4,50 115.3,45.8 105.2,41.6" fill="#1bab45"/>
<polygon points="105.5,41 115.6,45.1 125.7,49.3 136,53.2 146.5,56.9 157,60.2 167.6,63.4 178.3,65 189.3,63.7 199.8,66.6 209.8,71 208.1,74 198,69.9 187.5,67.2 176.5,68.6 165.9,66.8 155.4,63.5 144.9,60 134.5,56.2 124.3,52.2 114.3,47.8 104.4,43.4" fill="#15a556"/>
<polygon points="104.7,42.8 114.7,47.1 124.7,51.4 134.9,55.4 145.3,59.2 155.8,62.6 166.3,65.9 177,67.7 188,66.3 198.5,69 208.5,73.2 206.8,76.2 196.7,72.4 186.2,69.9 175.2,71.2 164.6,69.3 154.2,65.9 143.8,62.3 133.4,58.5 123.3,54.4 113.4,49.8 103.5,45.2" fill="#109d74"/>
<polygon points="103.8,44.6 113.7,49.1 123.6,53.6 133.8,57.7 144.2,61.5 154.6,65 165,68.4 175.7,70.3 186.6,69 197.2,71.5 207.2,75.4 205.6,78.4 195.4,74.8 184.8,72.5 173.9,73.8 163.3,71.9 152.9,68.3 142.6,64.6 132.3,60.7 122.2,56.5 112.5,51.7 102.7,47" fill="#1069af"/>
<polygon points="103,46.3 112.8,51 122.6,55.8 132.7,60 143,63.8 153.4,67.5 163.8,71 174.3,72.9 185.3,71.6 195.8,74 206,77.7 204.3,80.7 194.1,77.3 183.5,75.1 172.6,76.4 162,74.4 151.7,70.7 141.4,67 131.2,63 121.2,58.7 111.5,53.7 101.9,48.7" fill="#103cd5"/>
<polygon points="102.2,48.1 111.9,53 121.6,57.9 131.6,62.2 141.9,66.2 152.2,69.9 162.5,73.5 173,75.5 183.9,74.2 194.5,76.4 204.8,79.9 203.1,82.9 192.7,79.7 182.1,77.7 171.2,79 160.8,76.9 150.5,73.1 140.3,69.3 130.1,65.3 120.2,60.8 110.6,55.7 101,50.5" fill="#122dde"/>
<polygon points="101.3,49.9 110.9,55 120.5,60.1 130.5,64.5 140.7,68.5 150.9,72.3 161.2,76 171.7,78.1 182.6,76.8 193.2,78.9 203.5,82.1 201.8,85.1 191.4,82.2 180.8,80.4 169.9,81.7 159.5,79.4 149.3,75.5 139.1,71.6 129,67.5 119.1,63 109.7,57.6 100.2,52.3" fill="#1528db"/>
<polygon points="100.5,51.7 110,56.9 119.5,62.2 129.4,66.7 139.5,70.8 149.7,74.7 159.9,78.5 170.4,80.7 181.2,79.5 191.9,81.3 202.2,84.3 200.6,87.3 190.1,84.6 179.4,83 168.6,84.3 158.2,82 148.1,77.9 138,73.9 127.9,69.8 118.1,65.1 108.7,59.6 99.4,54.1" fill="#1823d8"/>
<polygon points="99.7,53.4 109,58.9 118.4,64.4 128.3,69 138.4,73.1 148.5,77.1 158.7,81.1 169,83.4 179.9,82.1 190.5,83.8 201,86.6 199.3,89.6 188.7,87.1 178.1,85.6 167.3,86.9 157,84.5 146.9,80.4 136.8,76.2 126.8,72.1 117,67.3 107.8,61.6 98.5,55.8" fill="#1b1fd5"/>
<polygon points="98.8,55.2 108.1,60.9 117.4,66.5 127.1,71.3 137.2,75.4 147.3,79.5 157.4,83.6 167.7,86 178.5,84.7 189.2,86.2 199.8,88.8 198.5,91 187.9,88.7 177.2,87.3 166.4,88.6 156.1,86.1 146.1,81.9 136.1,77.7 126,73.5 116.3,68.7 107.2,62.8 98,57" fill="#1e1ad2"/>
<polygon points="214,50 221,52 216,63 210,74 204,84 199,91 196,88 203,76 209,64" fill="#103828" fill-opacity="0.45"/>
<polygon points="215,48 221,52 219,57 215,64 212,58" fill="#a8a050" />
</g>
<g filter="url(#rG)">
<polygon points="113,25 172,13.5 259.5,39.5 238,45.5 224,52 213,45 202,40 186,42 160,37 140,31" fill="url(#a_h)" />
</g>
<g filter="url(#rC2)">
<polygon points="112.5,25.3 127.5,27.5 127.5,31.5 112.5,27.7" fill="#c8d818" />
<polygon points="126.5,27.5 140.5,30.1 140.5,34.9 126.5,31.5" fill="#e0c010" />
<polygon points="139.5,30.1 150.5,32.8 150.5,37.2 139.5,34.9" fill="#e89010" />
<polygon points="149.5,32.8 160.5,36.1 160.5,40.9 149.5,37.2" fill="#e0c010" />
<polygon points="159.5,36.1 170.5,38.1 170.5,42.9 159.5,40.9" fill="#e8a010" />
<polygon points="169.5,38.1 180.5,39.4 180.5,44.6 169.5,42.9" fill="#e88810" />
<polygon points="179.5,39.4 190.5,40.2 190.5,45.8 179.5,44.6" fill="#e86810" />
<polygon points="189.5,40.2 198.5,39.7 198.5,45.3 189.5,45.8" fill="#e03010" />
<polygon points="197.5,39.7 206.5,40.1 206.5,44.9 197.5,45.3" fill="#e02010" />
<polygon points="205.5,40.1 216.5,46.5 216.5,49.5 205.5,44.9" fill="#e09010" />
</g>
<g filter="url(#soft2)">
<polygon points="163,86 166,91 169,88" fill="#0a1a08" />
<polygon points="167,89 171,84 175,89" fill="#30a838" />
<polygon points="174,88 177,90.5 180,86" fill="#0a1030" />
<polygon points="186,88 189,92 192,88" fill="#0a1030" />
</g>
<g filter="url(#rG)">
<polygon points="12,60 52,46 75,51 97,57 122,67.5 163,86 110,120 100,126" fill="url(#a_l)" />
</g>
</g>
<g filter="url(#soft)">
<g filter="url(#rC)">
<polygon points="439,45 445.4,46.6 451.7,48.3 458.1,49.9 464.5,51.6 470.8,53.2 477.3,54.5 483.7,55.9 490.1,57.3 496.6,58.6 503,60 499,64.2 492.5,62.7 486,61.2 479.5,59.6 473,58 466.6,56.4 460.1,54.5 453.7,52.6 447.3,50.8 440.9,48.9 434.5,47" fill="#63d520"/>
<polygon points="435.6,46.5 442,48.3 448.5,50.1 454.9,51.9 461.3,53.7 467.7,55.5 474.1,57.1 480.6,58.7 487.1,60.2 493.6,61.6 500.1,63.1 496.1,67.3 489.5,65.7 482.9,64.1 476.3,62.4 469.9,60.6 463.4,58.7 456.9,56.6 450.5,54.6 444,52.6 437.6,50.6 431.1,48.5" fill="#30cf21"/>
<polygon points="432.3,48 438.7,50 445.2,51.9 451.6,53.9 458.1,55.9 464.5,57.9 471,59.7 477.4,61.4 484,63.1 490.6,64.6 497.1,66.2 493.2,70.4 486.5,68.7 479.8,67 473.2,65.2 466.7,63.1 460.2,61.1 453.7,58.8 447.2,56.6 440.8,54.4 434.3,52.2 427.8,50" fill="#2cca26"/>
<polygon points="428.9,49.5 435.4,51.6 441.9,53.8 448.4,55.9 454.9,58.1 461.3,60.2 467.8,62.2 474.3,64.2 480.9,66 487.6,67.6 494.2,69.3 490.3,73.5 483.5,71.7 476.8,69.9 470.1,67.9 463.6,65.7 457,63.4 450.5,61 444,58.6 437.5,56.2 430.9,53.9 424.4,51.5" fill="#28c42c"/>
<polygon points="425.6,51 432.1,53.3 438.6,55.6 445.1,57.9 451.7,60.2 458.1,62.6 464.7,64.8 471.2,67 477.8,68.9 484.6,70.7 491.3,72.4 487.3,76.6 480.5,74.7 473.7,72.8 466.9,70.7 460.4,68.2 453.9,65.8 447.3,63.1 440.8,60.6 434.2,58.1 427.6,55.6 421,53" fill="#24be32"/>
<polygon points="422.2,52.5 428.8,55 435.3,57.4 441.9,59.9 448.5,62.4 455,64.9 461.5,67.3 468,69.7 474.8,71.8 481.6,73.7 488.4,75.5 484.4,79.7 477.5,77.7 470.6,75.7 463.8,73.5 457.3,70.8 450.7,68.1 444.1,65.3 437.5,62.6 430.9,59.9 424.3,57.2 417.7,54.5" fill="#20b937"/>
<polygon points="418.9,54 425.5,56.6 432.1,59.3 438.7,61.9 445.3,64.5 451.8,67.3 458.4,69.9 464.9,72.5 471.7,74.7 478.6,76.7 485.4,78.6 481.5,82.8 474.5,80.7 467.5,78.6 460.7,76.2 454.1,73.3 447.5,70.5 441,67.4 434.3,64.6 427.6,61.7 421,58.9 414.3,56" fill="#169e7b"/>
<polygon points="415.5,55.5 422.1,58.3 428.8,61.1 435.4,63.9 442.1,66.7 448.6,69.6 455.2,72.4 461.8,75.3 468.6,77.6 475.6,79.7 482.5,81.8 478.5,85.9 471.5,83.7 464.5,81.5 457.5,79 450.9,75.9 444.3,72.8 437.8,69.6 431.1,66.6 424.4,63.6 417.7,60.5 411,57.5" fill="#106cbd"/>
<polygon points="412.1,57 418.8,60 425.5,62.9 432.2,65.9 438.9,68.9 445.4,72 452,75 458.6,78 465.5,80.5 472.6,82.7 479.6,84.9 475.6,89.1 468.5,86.7 461.4,84.4 454.4,81.8 447.8,78.5 441.2,75.1 434.6,71.8 427.8,68.6 421.1,65.4 414.3,62.2 407.6,59" fill="#123cdd"/>
<polygon points="408.8,58.5 415.5,61.6 422.2,64.8 429,67.9 435.7,71 442.3,74.3 448.9,77.6 455.5,80.8 462.5,83.4 469.5,85.7 476.6,88 472.7,92.2 465.5,89.7 458.3,87.3 451.3,84.5 444.6,81 438,77.5 431.4,73.9 424.6,70.6 417.8,67.2 411,63.9 404.3,60.5" fill="#1732d5"/>
<polygon points="405.4,60 412.2,63.3 419,66.6 425.7,69.9 432.5,73.2 439.1,76.7 445.7,80.1 452.4,83.6 459.4,86.3 466.5,88.7 473.7,91.1 469.8,95.3 462.5,92.7 455.2,90.2 448.2,87.3 441.5,83.6 434.8,79.8 428.2,76.1 421.3,72.6 414.5,69.1 407.7,65.5 400.9,62" fill="#1c27cd"/>
<polygon points="402.1,61.5 408.9,65 415.7,68.4 422.5,71.9 429.3,75.3 435.9,79 442.6,82.7 449.2,86.3 456.3,89.2 463.5,91.7 470.8,94.2 466.8,98.4 459.5,95.7 452.2,93.1 445,90.1 438.3,86.1 431.6,82.2 425,78.2 418.1,74.6 411.2,70.9 404.4,67.2 397.5,63.5" fill="#1d1db5"/>
<polygon points="398.7,63 405.6,66.6 412.4,70.2 419.2,73.9 426.1,77.5 432.8,81.4 439.4,85.2 446.1,89.1 453.2,92.1 460.5,94.7 467.9,97.3 463.9,101.5 456.5,98.7 449.1,96 441.9,92.8 435.2,88.7 428.5,84.5 421.8,80.4 414.9,76.6 408,72.7 401.1,68.9 394.2,65" fill="#141478"/>
<polygon points="395.4,64.5 402.2,68.3 409.1,72.1 416,75.9 422.9,79.7 429.6,83.7 436.3,87.8 443,91.9 450.2,95 457.5,97.7 464.9,100.4 462,103.5 454.5,100.7 447.1,97.9 439.9,94.6 433.1,90.4 426.4,86.1 419.7,81.8 412.8,77.9 405.8,73.9 398.9,70 392,66" fill="#07072b"/>
<polygon points="443.6,22 450.3,24.1 457.1,26.2 463.8,28.3 470.6,30.3 477.3,32.4 484.1,34.5 490.8,36.6 497.6,38.6 504.3,40.7 511.1,42.8 509.1,47 502.4,45.1 495.7,43.2 489,41.4 482.4,39.5 475.7,37.6 469.1,35.6 462.4,33.6 455.8,31.7 449.1,29.7 442.5,27.7" fill="#d93e0c"/>
<polygon points="442.6,27 449.3,29 455.9,31 462.6,33 469.2,35 475.9,36.9 482.6,38.9 489.3,40.8 495.9,42.7 502.6,44.6 509.3,46.5 508.4,48.5 501.7,46.7 495.1,44.9 488.4,43 481.8,41.2 475.1,39.4 468.5,37.4 461.9,35.5 455.3,33.6 448.7,31.6 442.1,29.7" fill="#da410d"/>
<polygon points="442.2,29 448.8,31 455.5,32.9 462.1,34.9 468.7,36.8 475.3,38.7 482,40.6 488.6,42.4 495.3,44.3 501.9,46.1 508.6,48 507.7,50 501,48.3 494.4,46.5 487.8,44.7 481.2,42.9 474.6,41.2 468,39.3 461.4,37.4 454.8,35.5 448.2,33.6 441.7,31.7" fill="#dc440e"/>
<polygon points="441.8,31 448.4,32.9 455,34.8 461.6,36.7 468.2,38.6 474.8,40.5 481.4,42.3 488,44.1 494.6,45.9 501.3,47.7 507.9,49.5 507,51.5 500.4,49.8 493.8,48.1 487.2,46.4 480.6,44.7 474,43 467.5,41.1 460.9,39.3 454.4,37.4 447.8,35.6 441.3,33.7" fill="#de470f"/>
<polygon points="441.4,33 448,34.9 454.5,36.7 461.1,38.6 467.6,40.5 474.2,42.4 480.8,44.1 487.4,45.8 494,47.5 500.6,49.3 507.2,51 506.3,53 499.7,51.4 493.1,49.7 486.6,48.1 480,46.4 473.5,44.8 466.9,43 460.4,41.2 453.9,39.3 447.4,37.5 440.9,35.7" fill="#df4a10"/>
<polygon points="441,35 447.5,36.8 454.1,38.7 460.6,40.5 467.1,42.3 473.7,44.2 480.2,45.8 486.8,47.5 493.4,49.2 499.9,50.8 506.5,52.5 505.6,54.5 499,52.9 492.5,51.4 486,49.8 479.4,48.2 472.9,46.6 466.4,44.8 459.9,43.1 453.4,41.3 446.9,39.5 440.5,37.7" fill="#e56010"/>
<polygon points="440.6,37 447.1,38.8 453.6,40.6 460.1,42.4 466.6,44.2 473.1,46 479.6,47.6 486.2,49.2 492.7,50.8 499.3,52.4 505.8,54 504.9,56 498.3,54.5 491.8,53 485.3,51.4 478.8,49.9 472.3,48.4 465.9,46.7 459.4,44.9 453,43.2 446.5,41.4 440.1,39.7" fill="#ef8810"/>
<polygon points="440.2,39 446.7,40.8 453.1,42.5 459.6,44.3 466.1,46 472.5,47.8 479,49.3 485.6,50.9 492.1,52.4 498.6,54 505.1,55.5 504.2,57.5 497.7,56.1 491.2,54.6 484.7,53.1 478.2,51.7 471.8,50.2 465.3,48.5 458.9,46.8 452.5,45.1 446.1,43.4 439.7,41.7" fill="#f0c210"/>
<polygon points="439.8,41 446.2,42.7 452.7,44.4 459.1,46.2 465.5,47.9 472,49.6 478.5,51.1 484.9,52.5 491.4,54 497.9,55.5 504.4,57 503.5,59 497,57.6 490.6,56.2 484.1,54.8 477.7,53.4 471.2,52 464.8,50.4 458.4,48.7 452,47 445.6,45.4 439.3,43.7" fill="#d5e013"/>
<polygon points="439.4,43 445.8,44.7 452.2,46.4 458.6,48 465,49.7 471.4,51.4 477.9,52.8 484.3,54.2 490.8,55.6 497.2,57.1 503.7,58.5 502.3,61.5 495.9,60.2 489.5,58.9 483.1,57.6 476.7,56.3 470.3,55 463.9,53.4 457.6,51.8 451.3,50.2 444.9,48.6 438.6,47" fill="#92dd1b"/>
<polygon points="398,88 410,81 422,78 436,84 446,93 458,103 442,100 432,104 418,97 406,94" fill="#000" />
</g>
<g filter="url(#soft2)">
<polygon points="442.2,62.5 442.6,56.6 444.1,62.5" fill="#000" />
<polygon points="443.5,74.6 444.6,66.6 446.3,74.6" fill="#0a2010" />
<polygon points="458.5,68.8 459.1,64 460.3,68.8" fill="#d8d810" />
<polygon points="475.9,80.9 477,72.9 478.8,80.9" fill="#000" />
<polygon points="440.8,69.9 442.8,62.2 443.8,69.9" fill="#e8a010" />
<polygon points="427.9,66.5 428.8,59.1 430.3,66.5" fill="#103020" />
<polygon points="456,65.7 457.6,57 459,65.7" fill="#000" />
<polygon points="437.4,73.1 439.3,66.2 440.4,73.1" fill="#0a2010" />
<polygon points="455.2,70.1 456,63.1 457.5,70.1" fill="#d8d810" />
<polygon points="439.3,72 440.3,67.8 441,72" fill="#000" />
<polygon points="440.4,68.3 442.1,62 442.6,68.3" fill="#e8a010" />
<polygon points="436.3,65.7 437.3,60.7 438.9,65.7" fill="#103020" />
<polygon points="442.6,71.9 444.4,66.3 445.1,71.9" fill="#000" />
<polygon points="434,60.2 435.6,55 436.9,60.2" fill="#0a2010" />
<polygon points="439.8,65.3 440.4,60.4 442.1,65.3" fill="#d8d810" />
<polygon points="461.5,78.5 463.4,69.7 464.3,78.5" fill="#000" />
<polygon points="409,63.6 410.2,53.8 411.7,63.6" fill="#000" />
<polygon points="440.9,56.3 441.5,47.4 442.9,56.3" fill="#20c020" />
<polygon points="421.6,58.4 422.8,52.1 424.5,58.4" fill="#0a2010" />
<polygon points="407.2,62.2 408.4,57.2 409.9,62.2" fill="#000" />
<polygon points="416.8,59.7 417.5,49.8 419,59.7" fill="#20c020" />
<polygon points="409,61.7 409.8,56.7 411.5,61.7" fill="#0a2010" />
<polygon points="410.8,64.5 411.8,59 413.8,64.5" fill="#000" />
<polygon points="428.1,61.4 429.6,54.9 431.1,61.4" fill="#20c020" />
<polygon points="420.9,83.2 421.7,80 423.2,83.2" fill="#000" />
<polygon points="457.5,96.9 458.1,91.9 459.2,96.9" fill="#1020a0" />
<polygon points="421.8,81.5 422.9,77.6 424.8,81.5" fill="#000" />
<polygon points="405.9,84.2 407.4,79 409.1,84.2" fill="#000" />
<polygon points="458.7,95.6 460.1,89.5 461.5,95.6" fill="#1020a0" />
<polygon points="412.8,79.2 414.8,72.7 415.8,79.2" fill="#000" />
<polygon points="424.9,86.6 426.6,80.4 427.6,86.6" fill="#000" />
<polygon points="436.7,89.7 438.3,83.9 438.8,89.7" fill="#1020a0" />
<polygon points="465.4,91.9 467.1,85 468.5,91.9" fill="#000" />
<polygon points="405.7,83.9 407.5,80.4 408.9,83.9" fill="#000" />
</g>
<g filter="url(#rR)">
<polygon points="443,25 492,13 549.5,29.5 511,45.5" fill="url(#b_h)" />
</g>
<g filter="url(#rR2)">
<polygon points="307,64.5 351,51 390,62.5 422.5,76.5 363.5,101" fill="#f01410" />
</g>
</g>
<g filter="url(#soft)">
<g filter="url(#rC)">
<polygon points="113,236 117.3,233.9 121.6,231.7 125.9,229.6 130.3,227.8 134.8,226.1 139.3,224.4 143.8,222.7 148.2,220.8 152.6,218.9 157,217 157,223.3 152.6,225.1 148.2,226.9 143.7,228.7 139.3,230.3 134.8,231.9 130.3,233.4 125.9,234.3 121.6,235.6 117.3,236.8 113,238" fill="#2dcd23"/>
<polygon points="113,237.5 117.3,236 121.6,234.6 125.9,233.1 130.3,231.9 134.8,230.4 139.3,228.8 143.7,227.1 148.2,225.3 152.6,223.5 157,221.7 157,228 152.6,229.7 148.1,231.4 143.7,233.1 139.2,234.7 134.7,236.2 130.2,237.5 125.9,237.8 121.6,238.4 117.3,239 113,239.5" fill="#28c828"/>
<polygon points="113,239 117.3,238.2 121.6,237.4 125.9,236.6 130.3,236 134.7,234.7 139.2,233.2 143.7,231.6 148.2,229.8 152.6,228.1 157,226.3 157,232.6 152.6,234.3 148.1,236 143.7,237.6 139.2,239.1 134.7,240.5 130.2,241.6 125.9,241.4 121.6,241.3 117.3,241.1 113,241" fill="#23c32d"/>
<polygon points="113,240.5 117.3,240.4 121.6,240.3 125.9,240.1 130.2,240.2 134.7,239 139.2,237.5 143.7,236 148.1,234.4 152.6,232.7 157,231 157,237.3 152.6,238.9 148.1,240.5 143.7,242 139.2,243.4 134.7,244.8 130.2,245.8 125.9,244.9 121.6,244.1 117.3,243.3 113,242.5" fill="#1bad40"/>
<polygon points="113,242 117.3,242.6 121.6,243.1 125.9,243.7 130.2,244.3 134.7,243.3 139.2,241.9 143.7,240.5 148.1,238.9 152.6,237.3 157,235.7 157,242 152.6,243.5 148.1,245 143.6,246.5 139.1,247.8 134.6,249.2 130.2,249.9 125.9,248.4 121.6,247 117.3,245.5 113,244" fill="#108860"/>
<polygon points="113,243.5 117.3,244.7 121.6,246 125.9,247.2 130.2,248.5 134.6,247.7 139.2,246.3 143.7,244.9 148.1,243.4 152.6,241.9 157,240.3 157,245 152.6,246.5 148.1,248 143.6,249.4 139.1,250.7 134.6,252 130.1,252.6 125.9,250.7 121.6,248.8 117.3,246.9 113,245" fill="#0b4d55"/>
<polygon points="159.3,196.9 162.5,197.6 165.7,198.2 168.9,198.8 172.2,199.5 175.4,200.1 178.6,200.8 181.8,201.4 185,202 188.3,202.7 191.5,203.3 190.3,207.3 187.2,207 184,206.7 180.8,206.4 177.6,206.1 174.5,205.8 171.3,205.5 168.1,205.2 165,204.9 161.8,204.6 158.6,204.2" fill="#e94b10"/>
<polygon points="158.7,203.1 161.9,203.5 165.1,203.9 168.2,204.2 171.4,204.6 174.6,204.9 177.8,205.3 181,205.6 184.1,206 187.3,206.4 190.5,206.7 189.8,209 186.7,208.9 183.5,208.7 180.4,208.5 177.2,208.4 174.1,208.2 170.9,208 167.8,207.9 164.6,207.7 161.5,207.6 158.3,207.4" fill="#eb5210"/>
<polygon points="158.4,206.3 161.6,206.5 164.7,206.7 167.9,206.9 171.1,207.1 174.2,207.4 177.4,207.6 180.5,207.8 183.7,208 186.8,208.2 190,208.4 189.3,210.7 186.2,210.7 183.1,210.7 179.9,210.7 176.8,210.7 173.7,210.6 170.6,210.6 167.4,210.6 164.3,210.6 161.2,210.6 158,210.5" fill="#ee5910"/>
<polygon points="158.1,209.4 161.3,209.5 164.4,209.6 167.5,209.6 170.7,209.7 173.8,209.8 177,209.9 180.1,209.9 183.2,210 186.4,210.1 189.5,210.1 188.8,212.5 185.7,212.6 182.6,212.7 179.5,212.8 176.4,212.9 173.3,213.1 170.2,213.2 167.1,213.3 164,213.4 160.9,213.6 157.8,213.7" fill="#f06010"/>
<polygon points="157.9,212.6 161,212.5 164.1,212.4 167.2,212.4 170.3,212.3 173.4,212.2 176.5,212.1 179.7,212.1 182.8,212 185.9,211.9 189,211.9 188.3,214.2 185.2,214.4 182.2,214.7 179.1,215 176,215.2 172.9,215.5 169.8,215.8 166.7,216 163.6,216.3 160.6,216.6 157.5,216.8" fill="#f0b610"/>
<polygon points="157.6,215.7 160.7,215.5 163.8,215.3 166.8,215.1 169.9,214.9 173,214.6 176.1,214.4 179.2,214.2 182.3,214 185.4,213.8 188.5,213.6 187.8,215.9 184.8,216.3 181.7,216.7 178.6,217.1 175.6,217.5 172.5,217.9 169.4,218.3 166.4,218.7 163.3,219.1 160.2,219.6 157.2,220" fill="#8bd61e"/>
<polygon points="157.3,218.9 160.4,218.5 163.4,218.1 166.5,217.8 169.6,217.4 172.6,217.1 175.7,216.7 178.8,216.4 181.9,216 184.9,215.6 188,215.3 187.3,217.6 184.3,218.2 181.2,218.7 178.2,219.2 175.2,219.8 172.1,220.3 169.1,220.9 166,221.4 163,222 159.9,222.6 156.9,223.1" fill="#42c92a"/>
<polygon points="157,222 160.1,221.5 163.1,221 166.1,220.5 169.2,220 172.2,219.5 175.3,219 178.4,218.5 181.4,218 184.4,217.5 187.5,217 186.8,219.3 183.8,220 180.8,220.7 177.8,221.4 174.7,222.1 171.7,222.8 168.7,223.5 165.7,224.2 162.7,224.9 159.6,225.6 156.6,226.2" fill="#20bf31"/>
<polygon points="156.7,225.1 159.7,224.5 162.8,223.9 165.8,223.2 168.8,222.6 171.9,221.9 174.9,221.3 177.9,220.6 180.9,220 184,219.4 187,218.7 186.3,221 183.3,221.9 180.3,222.7 177.3,223.5 174.3,224.4 171.3,225.2 168.3,226 165.3,226.9 162.3,227.7 159.3,228.6 156.3,229.4" fill="#20bc34"/>
<polygon points="156.4,228.3 159.4,227.5 162.4,226.7 165.4,225.9 168.5,225.1 171.5,224.4 174.5,223.6 177.5,222.8 180.5,222 183.5,221.2 186.5,220.4 185.8,222.7 182.8,223.7 179.9,224.7 176.9,225.7 173.9,226.7 170.9,227.6 168,228.6 165,229.6 162,230.6 159,231.6 156,232.5" fill="#20b937"/>
<polygon points="156.1,231.4 159.1,230.5 162.1,229.6 165.1,228.6 168.1,227.7 171.1,226.8 174.1,225.9 177,224.9 180,224 183,223.1 186,222.1 185.3,224.5 182.4,225.6 179.4,226.7 176.5,227.8 173.5,228.9 170.5,230.1 167.6,231.2 164.6,232.3 161.7,233.4 158.7,234.6 155.8,235.7" fill="#18a054"/>
<polygon points="155.9,234.6 158.8,233.5 161.8,232.4 164.8,231.4 167.7,230.3 170.7,229.2 173.6,228.1 176.6,227.1 179.6,226 182.5,224.9 185.5,223.9 184.8,226.2 181.9,227.4 179,228.7 176,230 173.1,231.2 170.1,232.5 167.2,233.8 164.3,235 161.3,236.3 158.4,237.6 155.5,238.8" fill="#107985"/>
<polygon points="155.6,237.7 158.5,236.5 161.5,235.3 164.4,234.1 167.3,232.9 170.3,231.6 173.2,230.4 176.2,229.2 179.1,228 182.1,226.8 185,225.6 184.3,227.9 181.4,229.3 178.5,230.7 175.6,232.1 172.7,233.5 169.8,234.9 166.8,236.3 163.9,237.7 161,239.1 158.1,240.6 155.2,242" fill="#1045c9"/>
<polygon points="155.3,240.9 158.2,239.5 161.1,238.1 164,236.8 167,235.4 169.9,234.1 172.8,232.7 175.7,231.4 178.7,230 181.6,228.6 184.5,227.3 184,229 181.1,230.5 178.2,232 175.3,233.5 172.4,235 169.5,236.5 166.6,238 163.7,239.5 160.8,241 157.9,242.5 155,244" fill="#1036c6"/>
<polygon points="105,237 112,234 118,236 118,247 110,251 104,258" fill="url(#c_k)" />
</g>
<g filter="url(#rC2)">
<polygon points="68,240 88,236.5 104,262 76,246" fill="#000" />
<polygon points="74,230 86,227.5 100,232 111,241 104,262 95,249 87,237" fill="url(#c_m)" />
</g>
<g filter="url(#soft2)">
<polygon points="117.6,240.5 119,233.3 120,240.5" fill="#000" />
<polygon points="152.1,228.8 153,224.7 155,228.8" fill="#0a2010" />
<polygon points="149.9,228.7 151.7,220.6 152.6,228.7" fill="#30d020" />
<polygon points="138.5,239.3 139.6,234.3 141.1,239.3" fill="#000" />
<polygon points="152,233.7 152.6,227.3 154.4,233.7" fill="#c8d010" />
<polygon points="117.2,244.3 118.7,237.8 120,244.3" fill="#103020" />
<polygon points="121.1,241 121.7,233.1 123.4,241" fill="#000" />
<polygon points="150,234.9 151,230.5 152.3,234.9" fill="#0a2010" />
<polygon points="147,231.5 148.7,226.3 149.3,231.5" fill="#30d020" />
<polygon points="118.6,239.6 120,232.5 121.5,239.6" fill="#000" />
<polygon points="134.2,240.8 135.5,232.9 135.9,240.8" fill="#c8d010" />
<polygon points="123.3,239.7 124.8,231.5 125.5,239.7" fill="#103020" />
<polygon points="123.5,244.7 124.4,239.8 125.3,244.7" fill="#000" />
<polygon points="129.3,239.6 130,231.1 131.9,239.6" fill="#0a2010" />
<polygon points="164.9,233.9 166.1,227.9 167.3,233.9" fill="#000" />
<polygon points="159,233.4 160.3,226 161,233.4" fill="#1030c0" />
<polygon points="182.5,229.1 183.4,222.4 184.8,229.1" fill="#0a2010" />
<polygon points="180.7,228.4 182.2,220.8 182.7,228.4" fill="#000" />
<polygon points="177.6,230.6 178.8,224.8 179.3,230.6" fill="#1030c0" />
<polygon points="166.6,234.4 167,229.9 168.3,234.4" fill="#0a2010" />
</g>
<g filter="url(#rR)">
<polygon points="159,200 172,193 196,187 220,180.5 248.5,188.5 230,193.5 200,200.5 191,205" fill="url(#c_h)" />
</g>
<g filter="url(#rR2)">
<polygon points="12.2,239.6 54.5,226.8 77,234.5 77,243 39.5,256" fill="#f01410" />
</g>
</g>
<g filter="url(#soft)">
<g filter="url(#rC2)">
<polygon points="410,196 460,207.5 490,214.5 524,218 517,223 506,232 495,242 479,257 443,248 401,235 377,223 357,212 372,207 386,206 390,201" fill="url(#d_v)" />
<polygon points="434,176.5 444.7,175.3 455.3,175.2 465.8,177.6 476.2,180.5 486.4,183.7 496.7,187 507,190 517.3,193 527.7,196 538,199 536.6,200.8 526.2,197.9 515.8,195.1 505.4,192.2 495,189.2 484.7,186 474.4,182.8 463.9,179.9 453.4,177.6 442.7,177.4 432,178.3" fill="#e2480a"/>
<polygon points="432.5,177.8 443.2,176.9 453.9,177 464.4,179.3 474.8,182.2 485.1,185.4 495.4,188.6 505.8,191.7 516.2,194.5 526.6,197.4 537,200.3 535.6,202.1 525.2,199.3 514.7,196.6 504.2,193.8 493.8,190.8 483.4,187.7 473,184.5 462.5,181.7 451.9,179.3 441.2,179 430.5,179.7" fill="#e6590e"/>
<polygon points="431,179.2 441.7,178.5 452.4,178.7 463,181.1 473.5,183.9 483.8,187.1 494.2,190.3 504.6,193.3 515.1,196.1 525.5,198.9 536,201.6 534.6,203.4 524.1,200.8 513.6,198.1 503,195.5 492.5,192.5 482.1,189.4 471.7,186.3 461.1,183.5 450.5,181.1 439.8,180.6 429,181" fill="#e87710"/>
<polygon points="429.5,180.5 440.3,180 451,180.5 461.6,182.8 472.1,185.7 482.5,188.8 493,191.9 503.4,194.9 513.9,197.6 524.5,200.3 535,202.9 533.6,204.7 523,202.2 512.4,199.7 501.8,197.1 491.3,194.1 480.8,191.1 470.3,188 459.7,185.2 449.1,182.8 438.3,182.2 427.5,182.3" fill="#e89f10"/>
<polygon points="428,181.9 438.8,181.6 449.6,182.2 460.2,184.6 470.8,187.4 481.2,190.5 491.7,193.6 502.2,196.5 512.8,199.1 523.4,201.7 534,204.2 532.6,206 522,203.6 511.3,201.2 500.6,198.7 490,195.8 479.5,192.8 468.9,189.7 458.3,187 447.6,184.6 436.8,183.8 426,183.7" fill="#d6cb16"/>
<polygon points="426.5,183.2 437.3,183.2 448.1,184 458.8,186.4 469.4,189.1 480,192.2 490.5,195.2 501,198.2 511.7,200.7 522.3,203.1 533,205.6 531.6,207.3 520.9,205 510.2,202.7 499.4,200.3 488.8,197.5 478.2,194.5 467.6,191.5 456.9,188.7 446.2,186.3 435.3,185.3 424.5,185" fill="#c4d81a"/>
<polygon points="425,184.6 435.9,184.8 446.7,185.7 457.4,188.1 468.1,190.9 478.7,193.9 489.2,196.9 499.9,199.8 510.6,202.2 521.3,204.5 532,206.9 530.6,208.6 519.8,206.5 509,204.3 498.3,202 487.6,199.1 476.9,196.2 466.2,193.2 455.5,190.5 444.7,188 433.9,186.9 423,186.4" fill="#b2d81c"/>
<polygon points="423.5,185.9 434.4,186.4 445.2,187.4 456,189.9 466.7,192.6 477.4,195.6 488,198.5 498.7,201.4 509.4,203.7 520.2,206 531,208.2 529.6,210 518.8,207.9 507.9,205.8 497.1,203.6 486.3,200.8 475.6,197.9 464.9,195 454.1,192.2 443.3,189.8 432.4,188.5 421.5,187.7" fill="#a1d81f"/>
<polygon points="422,187.2 432.9,187.9 443.8,189.2 454.6,191.6 465.4,194.4 476.1,197.3 486.8,200.2 497.5,203 508.3,205.3 519.2,207.4 530,209.5 528.6,211.3 517.7,209.3 506.8,207.3 495.9,205.2 485.1,202.4 474.3,199.6 463.5,196.7 452.7,194 441.9,191.5 430.9,190.1 420,189.1" fill="#88d522"/>
<polygon points="420.5,188.6 431.4,189.5 442.4,190.9 453.2,193.4 464,196.1 474.8,199 485.5,201.8 496.3,204.6 507.2,206.8 518.1,208.8 529,210.8 527.6,212.6 516.7,210.7 505.7,208.9 494.7,206.8 483.8,204.1 473,201.3 462.2,198.4 451.3,195.8 440.4,193.3 429.5,191.6 418.5,190.4" fill="#69cf25"/>
<polygon points="419,189.9 430,191.1 440.9,192.7 451.8,195.1 462.7,197.8 473.5,200.7 484.3,203.5 495.1,206.3 506,208.3 517,210.2 528,212.1 526.6,213.9 515.6,212.1 504.5,210.4 493.5,208.5 482.6,205.7 471.7,202.9 460.8,200.2 449.9,197.5 439,195 428,193.2 417,191.8" fill="#4ac828"/>
<polygon points="417.5,191.3 428.5,192.7 439.5,194.4 450.4,196.9 461.3,199.6 472.2,202.4 483,205.2 493.9,207.9 504.9,209.9 516,211.6 527,213.4 525.6,215.2 514.5,213.6 503.4,211.9 492.3,210.1 481.4,207.4 470.4,204.6 459.5,201.9 448.5,199.3 437.5,196.8 426.5,194.8 415.5,193.1" fill="#3ec22e"/>
<polygon points="416,192.6 427,194.2 438,196.2 449,198.7 460,201.3 470.9,204 481.8,206.8 492.7,209.5 503.8,211.4 514.9,213.1 526,214.8 524.6,216.5 513.5,215 502.3,213.5 491.1,211.7 480.1,209 469.1,206.3 458.1,203.6 447.1,201 436.1,198.5 425,196.4 414,194.4" fill="#34bc34"/>
<polygon points="414.5,194 425.6,195.8 436.6,197.9 447.6,200.4 458.6,203 469.6,205.7 480.5,208.5 491.5,211.1 502.7,212.9 513.8,214.5 525,216.1 523.6,217.8 512.4,216.4 501.1,215 489.9,213.3 478.9,210.7 467.8,208 456.8,205.4 445.7,202.8 434.7,200.2 423.6,198 412.5,195.8" fill="#29b63a"/>
<polygon points="413,195.3 424.1,197.4 435.2,199.6 446.2,202.2 457.3,204.8 468.3,207.4 479.3,210.1 490.3,212.8 501.5,214.5 512.8,215.9 524,217.4 522.6,219.1 511.3,217.8 500,216.5 488.7,215 477.6,212.4 466.5,209.7 455.4,207.1 444.3,204.5 433.2,202 422.1,199.5 411,197.1" fill="#1eac48"/>
<polygon points="411.5,196.7 422.6,199 433.7,201.4 444.8,203.9 455.9,206.5 467,209.1 478.1,211.8 489.1,214.4 500.4,216 511.7,217.3 523,218.7 520.7,221.7 509.3,220.6 497.8,219.5 486.4,218.1 475.2,215.5 464,213 452.8,210.5 441.6,207.9 430.4,205.4 419.3,202.6 408.1,199.7" fill="#1075a2"/>
</g>
<g filter="url(#rG)">
<polygon points="434,176 446.5,174.3 459,174.1 471.5,175.4 483.7,178.4 496,181.5 508.1,184.9 520.2,188.4 532.3,191.9 544.4,195.5 556.5,199 544,199 533.1,195.8 522.2,192.7 511.3,189.5 500.4,186.3 489.5,183 478.6,179.8 467.7,176.9 456.5,174.9 445.3,175 434,176.3" fill="#36b330"/>
<polygon points="434,176.2 445.6,174.8 457.2,174.7 468.7,176.5 480,179.4 491.2,182.6 502.4,185.9 513.6,189.2 524.8,192.5 536,195.7 547.2,199 532.5,199 522.6,196.2 512.8,193.3 503,190.5 493.3,187.6 483.6,184.4 473.9,181.1 464.1,178.2 454.2,175.6 444.2,175.6 434,176.7" fill="#50b92d"/>
</g>
<g filter="url(#rC2)">
<polygon points="411,220 428,224 442,232 448,230 457,245 452,249 443,247 400,232" fill="#208840" />
<polygon points="411,218.5 424,214.5 436,221 447,230 441,236 428,229 414,226" fill="url(#d_g)" />
<polygon points="355,209 372,207 388,212.5 401,219 398,231 377,223" fill="#20a058" />
<polygon points="456,244 462,247 479,257.5 470,256 458,250" fill="#000" />
</g>
<g filter="url(#soft2)">
<polygon points="372,222 374,204 376.5,222" fill="#3a4020" />
<polygon points="411.3,227.2 412.6,208.9 413.6,227.2" fill="#0a2010" />
<polygon points="407.7,227.6 409.3,214.9 409.9,227.6" fill="#204020" />
<polygon points="406.4,227.5 406.9,213.2 408.5,227.5" fill="#0a2010" />
<polygon points="404.8,227.9 406.5,210.1 407.5,227.9" fill="#406020" />
<polygon points="449.8,245.3 451,239.4 452.1,245.3" fill="#0a2010" />
<polygon points="451.9,241.5 453,233.7 453.7,241.5" fill="#c8d010" />
<polygon points="441.9,237.7 443.1,231.6 444.7,237.7" fill="#208040" />
<polygon points="449.6,243.5 451.3,237.5 452.5,243.5" fill="#000" />
<polygon points="426.8,235.3 428.7,230.6 429.3,235.3" fill="#0a2010" />
<polygon points="448.6,243.1 449.7,238.1 451.3,243.1" fill="#c8d010" />
<polygon points="429.7,238.1 431.1,234.2 432,238.1" fill="#208040" />
<polygon points="438.4,239 439.2,231.3 440.8,239" fill="#000" />
<polygon points="420.9,227.2 422.5,219.2 423.8,227.2" fill="#0a2010" />
<polygon points="426.7,236.1 428.1,231.8 428.6,236.1" fill="#c8d010" />
<polygon points="450.3,240.7 451,237 452.2,240.7" fill="#208040" />
<polygon points="449.5,245.2 450.8,238.3 452.1,245.2" fill="#000" />
</g>
<g filter="url(#rY)">
<polygon points="342,205 352,209.6 362,214.2 372,218.7 382,223.5 391.8,228.4 401.7,233.2 412.3,236.3 422.9,239.4 433.4,242.4 444,245.5 438.8,249.4 428.5,246 418.2,242.6 407.8,239.1 397.5,235.7 387.7,230.8 378,225.8 368.2,221 358.4,216.3 348.5,211.6 338.6,206.9" fill="#ea7b10"/>
<polygon points="339.5,206.4 349.4,211.1 359.3,215.7 369.2,220.4 379,225.2 388.8,230.2 398.6,235.1 409,238.4 419.4,241.7 429.8,245 440.2,248.4 435,252.3 424.8,248.6 414.7,244.9 404.6,241.3 394.4,237.6 384.7,232.6 375.1,227.6 365.4,222.7 355.7,217.9 345.9,213.1 336.1,208.3" fill="#ef9110"/>
<polygon points="337,207.8 346.8,212.6 356.6,217.3 366.4,222.1 376.1,227 385.8,232 395.5,236.9 405.7,240.5 415.9,244.1 426.1,247.7 436.3,251.2 431.2,255.1 421.2,251.2 411.2,247.3 401.3,243.4 391.3,239.5 381.7,234.4 372.2,229.3 362.6,224.3 352.9,219.5 343.3,214.6 333.6,209.7" fill="#f0a610"/>
<polygon points="334.5,209.2 344.2,214.1 353.9,218.9 363.6,223.8 373.2,228.7 382.8,233.8 392.4,238.8 402.4,242.6 412.4,246.5 422.5,250.3 432.5,254.1 427.3,258 417.5,253.8 407.8,249.7 398,245.5 388.2,241.3 378.7,236.2 369.3,231.1 359.8,226 350.2,221.1 340.7,216.1 331.1,211.2" fill="#f0ba10"/>
<polygon points="332,210.7 341.6,215.6 351.2,220.5 360.8,225.4 370.3,230.5 379.8,235.6 389.3,240.7 399.1,244.7 409,248.8 418.8,252.9 428.7,257 423.5,260.9 413.9,256.5 404.3,252 394.7,247.6 385.1,243.2 375.7,238 366.4,232.8 357,227.7 347.5,222.6 338.1,217.6 328.6,212.6" fill="#eecb10"/>
<polygon points="329.5,212.1 339,217.1 348.5,222.1 357.9,227.1 367.4,232.2 376.8,237.4 386.2,242.5 395.8,246.9 405.5,251.2 415.2,255.5 424.8,259.9 419.7,263.8 410.2,259.1 400.8,254.4 391.4,249.7 382,245.1 372.7,239.8 363.4,234.6 354.1,229.4 344.8,224.2 335.5,219.1 326.1,214" fill="#e7d510"/>
<polygon points="327,213.5 336.4,218.6 345.7,223.7 355.1,228.8 364.5,233.9 373.7,239.2 383.1,244.4 392.6,249 402,253.6 411.5,258.2 421,262.8 415.8,266.6 406.6,261.7 397.4,256.8 388.1,251.8 378.9,246.9 369.7,241.6 360.5,236.3 351.3,231 342.1,225.8 332.9,220.6 323.6,215.4" fill="#e1df10"/>
<polygon points="324.5,214.9 333.8,220.1 343,225.3 352.3,230.4 361.5,235.7 370.7,241 380,246.3 389.3,251.1 398.6,255.9 407.9,260.8 417.2,265.6 412,269.5 402.9,264.3 393.9,259.1 384.8,254 375.8,248.8 366.7,243.4 357.6,238 348.5,232.7 339.4,227.4 330.2,222.1 321.1,216.8" fill="#c7dc14"/>
<polygon points="322,216.3 331.2,221.6 340.3,226.9 349.5,232.1 358.6,237.4 367.7,242.8 376.8,248.1 386,253.2 395.1,258.3 404.2,263.4 413.3,268.5 408.2,272.4 399.3,266.9 390.4,261.5 381.5,256.1 372.6,250.7 363.7,245.2 354.7,239.8 345.7,234.4 336.7,229 327.6,223.6 318.6,218.2" fill="#acd917"/>
<polygon points="319.5,217.8 328.6,223.1 337.6,228.4 346.7,233.8 355.7,239.2 364.7,244.6 373.7,250 382.7,255.3 391.6,260.7 400.6,266 409.5,271.4 404.3,275.3 395.6,269.6 386.9,263.9 378.2,258.2 369.5,252.5 360.6,247 351.8,241.5 342.9,236 333.9,230.6 325,225.1 316.1,219.7" fill="#88d11c"/>
<polygon points="317,219.2 325.9,224.6 334.9,230 343.8,235.5 352.8,240.9 361.7,246.4 370.6,251.9 379.4,257.5 388.2,263.1 396.9,268.7 405.7,274.2 400.5,278.1 392,272.2 383.5,266.3 375,260.3 366.4,254.4 357.6,248.8 348.8,243.3 340,237.7 331.2,232.2 322.4,226.6 313.6,221.1" fill="#62c820"/>
<polygon points="314.5,220.6 323.3,226.1 332.2,231.6 341,237.1 349.9,242.7 358.7,248.2 367.5,253.8 376.1,259.6 384.7,265.4 393.3,271.3 401.8,277.1 398,280 389.6,273.9 381.2,267.8 372.8,261.7 364.4,255.6 355.7,250 346.9,244.4 338.2,238.8 329.5,233.2 320.7,227.6 312,222" fill="#46c325"/>
</g>
</g>
</svg>
</body></html>
